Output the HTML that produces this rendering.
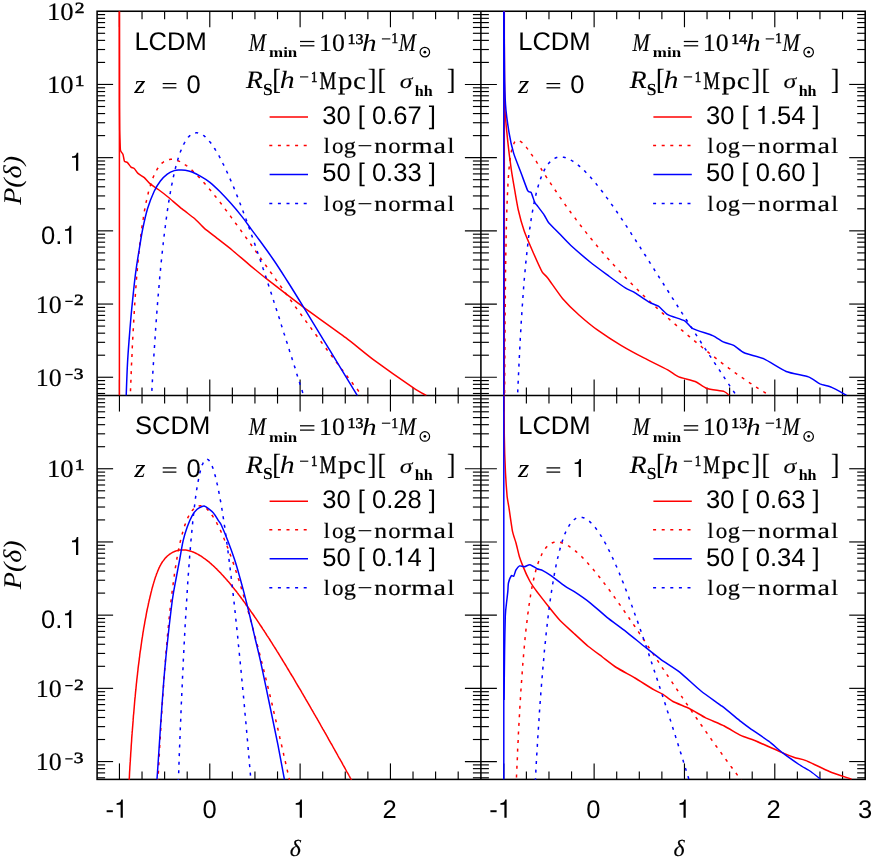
<!DOCTYPE html>
<html><head><meta charset="utf-8"><title>P(delta)</title>
<style>
html,body{margin:0;padding:0;background:#fff;}
body{width:872px;height:857px;overflow:hidden;font-family:"Liberation Sans",sans-serif;}
svg{display:block;will-change:transform;}
text{fill:#000;text-rendering:geometricPrecision;}
</style></head><body>
<svg width="872" height="857" viewBox="0 0 872 857">
<g id="frame" stroke-linecap="butt">
<rect x="97.1" y="11.25" width="768.10" height="768.15" fill="none" stroke="#000" stroke-width="1.55"/>
<line x1="480.90" y1="11.25" x2="480.90" y2="779.40" stroke="#000" stroke-width="1.55"/>
<line x1="97.10" y1="395.55" x2="865.20" y2="395.55" stroke="#000" stroke-width="1.55"/>
<line x1="119.45" y1="11.25" x2="119.45" y2="27.25" stroke="#000" stroke-width="1.15"/>
<line x1="119.45" y1="379.55" x2="119.45" y2="411.55" stroke="#000" stroke-width="1.15"/>
<line x1="119.45" y1="763.40" x2="119.45" y2="779.40" stroke="#000" stroke-width="1.15"/>
<line x1="142.03" y1="11.25" x2="142.03" y2="19.25" stroke="#000" stroke-width="1.15"/>
<line x1="142.03" y1="387.55" x2="142.03" y2="403.55" stroke="#000" stroke-width="1.15"/>
<line x1="142.03" y1="771.40" x2="142.03" y2="779.40" stroke="#000" stroke-width="1.15"/>
<line x1="164.62" y1="11.25" x2="164.62" y2="19.25" stroke="#000" stroke-width="1.15"/>
<line x1="164.62" y1="387.55" x2="164.62" y2="403.55" stroke="#000" stroke-width="1.15"/>
<line x1="164.62" y1="771.40" x2="164.62" y2="779.40" stroke="#000" stroke-width="1.15"/>
<line x1="187.20" y1="11.25" x2="187.20" y2="19.25" stroke="#000" stroke-width="1.15"/>
<line x1="187.20" y1="387.55" x2="187.20" y2="403.55" stroke="#000" stroke-width="1.15"/>
<line x1="187.20" y1="771.40" x2="187.20" y2="779.40" stroke="#000" stroke-width="1.15"/>
<line x1="209.78" y1="11.25" x2="209.78" y2="27.25" stroke="#000" stroke-width="1.15"/>
<line x1="209.78" y1="379.55" x2="209.78" y2="411.55" stroke="#000" stroke-width="1.15"/>
<line x1="209.78" y1="763.40" x2="209.78" y2="779.40" stroke="#000" stroke-width="1.15"/>
<line x1="232.36" y1="11.25" x2="232.36" y2="19.25" stroke="#000" stroke-width="1.15"/>
<line x1="232.36" y1="387.55" x2="232.36" y2="403.55" stroke="#000" stroke-width="1.15"/>
<line x1="232.36" y1="771.40" x2="232.36" y2="779.40" stroke="#000" stroke-width="1.15"/>
<line x1="254.94" y1="11.25" x2="254.94" y2="19.25" stroke="#000" stroke-width="1.15"/>
<line x1="254.94" y1="387.55" x2="254.94" y2="403.55" stroke="#000" stroke-width="1.15"/>
<line x1="254.94" y1="771.40" x2="254.94" y2="779.40" stroke="#000" stroke-width="1.15"/>
<line x1="277.53" y1="11.25" x2="277.53" y2="19.25" stroke="#000" stroke-width="1.15"/>
<line x1="277.53" y1="387.55" x2="277.53" y2="403.55" stroke="#000" stroke-width="1.15"/>
<line x1="277.53" y1="771.40" x2="277.53" y2="779.40" stroke="#000" stroke-width="1.15"/>
<line x1="300.11" y1="11.25" x2="300.11" y2="27.25" stroke="#000" stroke-width="1.15"/>
<line x1="300.11" y1="379.55" x2="300.11" y2="411.55" stroke="#000" stroke-width="1.15"/>
<line x1="300.11" y1="763.40" x2="300.11" y2="779.40" stroke="#000" stroke-width="1.15"/>
<line x1="322.69" y1="11.25" x2="322.69" y2="19.25" stroke="#000" stroke-width="1.15"/>
<line x1="322.69" y1="387.55" x2="322.69" y2="403.55" stroke="#000" stroke-width="1.15"/>
<line x1="322.69" y1="771.40" x2="322.69" y2="779.40" stroke="#000" stroke-width="1.15"/>
<line x1="345.27" y1="11.25" x2="345.27" y2="19.25" stroke="#000" stroke-width="1.15"/>
<line x1="345.27" y1="387.55" x2="345.27" y2="403.55" stroke="#000" stroke-width="1.15"/>
<line x1="345.27" y1="771.40" x2="345.27" y2="779.40" stroke="#000" stroke-width="1.15"/>
<line x1="367.86" y1="11.25" x2="367.86" y2="19.25" stroke="#000" stroke-width="1.15"/>
<line x1="367.86" y1="387.55" x2="367.86" y2="403.55" stroke="#000" stroke-width="1.15"/>
<line x1="367.86" y1="771.40" x2="367.86" y2="779.40" stroke="#000" stroke-width="1.15"/>
<line x1="390.44" y1="11.25" x2="390.44" y2="27.25" stroke="#000" stroke-width="1.15"/>
<line x1="390.44" y1="379.55" x2="390.44" y2="411.55" stroke="#000" stroke-width="1.15"/>
<line x1="390.44" y1="763.40" x2="390.44" y2="779.40" stroke="#000" stroke-width="1.15"/>
<line x1="413.02" y1="11.25" x2="413.02" y2="19.25" stroke="#000" stroke-width="1.15"/>
<line x1="413.02" y1="387.55" x2="413.02" y2="403.55" stroke="#000" stroke-width="1.15"/>
<line x1="413.02" y1="771.40" x2="413.02" y2="779.40" stroke="#000" stroke-width="1.15"/>
<line x1="435.60" y1="11.25" x2="435.60" y2="19.25" stroke="#000" stroke-width="1.15"/>
<line x1="435.60" y1="387.55" x2="435.60" y2="403.55" stroke="#000" stroke-width="1.15"/>
<line x1="435.60" y1="771.40" x2="435.60" y2="779.40" stroke="#000" stroke-width="1.15"/>
<line x1="458.19" y1="11.25" x2="458.19" y2="19.25" stroke="#000" stroke-width="1.15"/>
<line x1="458.19" y1="387.55" x2="458.19" y2="403.55" stroke="#000" stroke-width="1.15"/>
<line x1="458.19" y1="771.40" x2="458.19" y2="779.40" stroke="#000" stroke-width="1.15"/>
<line x1="503.80" y1="11.25" x2="503.80" y2="27.25" stroke="#000" stroke-width="1.15"/>
<line x1="503.80" y1="379.55" x2="503.80" y2="411.55" stroke="#000" stroke-width="1.15"/>
<line x1="503.80" y1="763.40" x2="503.80" y2="779.40" stroke="#000" stroke-width="1.15"/>
<line x1="526.38" y1="11.25" x2="526.38" y2="19.25" stroke="#000" stroke-width="1.15"/>
<line x1="526.38" y1="387.55" x2="526.38" y2="403.55" stroke="#000" stroke-width="1.15"/>
<line x1="526.38" y1="771.40" x2="526.38" y2="779.40" stroke="#000" stroke-width="1.15"/>
<line x1="548.97" y1="11.25" x2="548.97" y2="19.25" stroke="#000" stroke-width="1.15"/>
<line x1="548.97" y1="387.55" x2="548.97" y2="403.55" stroke="#000" stroke-width="1.15"/>
<line x1="548.97" y1="771.40" x2="548.97" y2="779.40" stroke="#000" stroke-width="1.15"/>
<line x1="571.55" y1="11.25" x2="571.55" y2="19.25" stroke="#000" stroke-width="1.15"/>
<line x1="571.55" y1="387.55" x2="571.55" y2="403.55" stroke="#000" stroke-width="1.15"/>
<line x1="571.55" y1="771.40" x2="571.55" y2="779.40" stroke="#000" stroke-width="1.15"/>
<line x1="594.13" y1="11.25" x2="594.13" y2="27.25" stroke="#000" stroke-width="1.15"/>
<line x1="594.13" y1="379.55" x2="594.13" y2="411.55" stroke="#000" stroke-width="1.15"/>
<line x1="594.13" y1="763.40" x2="594.13" y2="779.40" stroke="#000" stroke-width="1.15"/>
<line x1="616.71" y1="11.25" x2="616.71" y2="19.25" stroke="#000" stroke-width="1.15"/>
<line x1="616.71" y1="387.55" x2="616.71" y2="403.55" stroke="#000" stroke-width="1.15"/>
<line x1="616.71" y1="771.40" x2="616.71" y2="779.40" stroke="#000" stroke-width="1.15"/>
<line x1="639.30" y1="11.25" x2="639.30" y2="19.25" stroke="#000" stroke-width="1.15"/>
<line x1="639.30" y1="387.55" x2="639.30" y2="403.55" stroke="#000" stroke-width="1.15"/>
<line x1="639.30" y1="771.40" x2="639.30" y2="779.40" stroke="#000" stroke-width="1.15"/>
<line x1="661.88" y1="11.25" x2="661.88" y2="19.25" stroke="#000" stroke-width="1.15"/>
<line x1="661.88" y1="387.55" x2="661.88" y2="403.55" stroke="#000" stroke-width="1.15"/>
<line x1="661.88" y1="771.40" x2="661.88" y2="779.40" stroke="#000" stroke-width="1.15"/>
<line x1="684.46" y1="11.25" x2="684.46" y2="27.25" stroke="#000" stroke-width="1.15"/>
<line x1="684.46" y1="379.55" x2="684.46" y2="411.55" stroke="#000" stroke-width="1.15"/>
<line x1="684.46" y1="763.40" x2="684.46" y2="779.40" stroke="#000" stroke-width="1.15"/>
<line x1="707.04" y1="11.25" x2="707.04" y2="19.25" stroke="#000" stroke-width="1.15"/>
<line x1="707.04" y1="387.55" x2="707.04" y2="403.55" stroke="#000" stroke-width="1.15"/>
<line x1="707.04" y1="771.40" x2="707.04" y2="779.40" stroke="#000" stroke-width="1.15"/>
<line x1="729.62" y1="11.25" x2="729.62" y2="19.25" stroke="#000" stroke-width="1.15"/>
<line x1="729.62" y1="387.55" x2="729.62" y2="403.55" stroke="#000" stroke-width="1.15"/>
<line x1="729.62" y1="771.40" x2="729.62" y2="779.40" stroke="#000" stroke-width="1.15"/>
<line x1="752.21" y1="11.25" x2="752.21" y2="19.25" stroke="#000" stroke-width="1.15"/>
<line x1="752.21" y1="387.55" x2="752.21" y2="403.55" stroke="#000" stroke-width="1.15"/>
<line x1="752.21" y1="771.40" x2="752.21" y2="779.40" stroke="#000" stroke-width="1.15"/>
<line x1="774.79" y1="11.25" x2="774.79" y2="27.25" stroke="#000" stroke-width="1.15"/>
<line x1="774.79" y1="379.55" x2="774.79" y2="411.55" stroke="#000" stroke-width="1.15"/>
<line x1="774.79" y1="763.40" x2="774.79" y2="779.40" stroke="#000" stroke-width="1.15"/>
<line x1="797.37" y1="11.25" x2="797.37" y2="19.25" stroke="#000" stroke-width="1.15"/>
<line x1="797.37" y1="387.55" x2="797.37" y2="403.55" stroke="#000" stroke-width="1.15"/>
<line x1="797.37" y1="771.40" x2="797.37" y2="779.40" stroke="#000" stroke-width="1.15"/>
<line x1="819.95" y1="11.25" x2="819.95" y2="19.25" stroke="#000" stroke-width="1.15"/>
<line x1="819.95" y1="387.55" x2="819.95" y2="403.55" stroke="#000" stroke-width="1.15"/>
<line x1="819.95" y1="771.40" x2="819.95" y2="779.40" stroke="#000" stroke-width="1.15"/>
<line x1="842.54" y1="11.25" x2="842.54" y2="19.25" stroke="#000" stroke-width="1.15"/>
<line x1="842.54" y1="387.55" x2="842.54" y2="403.55" stroke="#000" stroke-width="1.15"/>
<line x1="842.54" y1="771.40" x2="842.54" y2="779.40" stroke="#000" stroke-width="1.15"/>
<line x1="97.10" y1="84.45" x2="113.10" y2="84.45" stroke="#000" stroke-width="1.15"/>
<line x1="464.90" y1="84.45" x2="496.90" y2="84.45" stroke="#000" stroke-width="1.15"/>
<line x1="849.20" y1="84.45" x2="865.20" y2="84.45" stroke="#000" stroke-width="1.15"/>
<line x1="97.10" y1="62.41" x2="105.10" y2="62.41" stroke="#000" stroke-width="1.15"/>
<line x1="472.90" y1="62.41" x2="488.90" y2="62.41" stroke="#000" stroke-width="1.15"/>
<line x1="857.20" y1="62.41" x2="865.20" y2="62.41" stroke="#000" stroke-width="1.15"/>
<line x1="97.10" y1="49.52" x2="105.10" y2="49.52" stroke="#000" stroke-width="1.15"/>
<line x1="472.90" y1="49.52" x2="488.90" y2="49.52" stroke="#000" stroke-width="1.15"/>
<line x1="857.20" y1="49.52" x2="865.20" y2="49.52" stroke="#000" stroke-width="1.15"/>
<line x1="97.10" y1="40.38" x2="105.10" y2="40.38" stroke="#000" stroke-width="1.15"/>
<line x1="472.90" y1="40.38" x2="488.90" y2="40.38" stroke="#000" stroke-width="1.15"/>
<line x1="857.20" y1="40.38" x2="865.20" y2="40.38" stroke="#000" stroke-width="1.15"/>
<line x1="97.10" y1="33.29" x2="105.10" y2="33.29" stroke="#000" stroke-width="1.15"/>
<line x1="472.90" y1="33.29" x2="488.90" y2="33.29" stroke="#000" stroke-width="1.15"/>
<line x1="857.20" y1="33.29" x2="865.20" y2="33.29" stroke="#000" stroke-width="1.15"/>
<line x1="97.10" y1="27.49" x2="105.10" y2="27.49" stroke="#000" stroke-width="1.15"/>
<line x1="472.90" y1="27.49" x2="488.90" y2="27.49" stroke="#000" stroke-width="1.15"/>
<line x1="857.20" y1="27.49" x2="865.20" y2="27.49" stroke="#000" stroke-width="1.15"/>
<line x1="97.10" y1="22.59" x2="105.10" y2="22.59" stroke="#000" stroke-width="1.15"/>
<line x1="472.90" y1="22.59" x2="488.90" y2="22.59" stroke="#000" stroke-width="1.15"/>
<line x1="857.20" y1="22.59" x2="865.20" y2="22.59" stroke="#000" stroke-width="1.15"/>
<line x1="97.10" y1="18.34" x2="105.10" y2="18.34" stroke="#000" stroke-width="1.15"/>
<line x1="472.90" y1="18.34" x2="488.90" y2="18.34" stroke="#000" stroke-width="1.15"/>
<line x1="857.20" y1="18.34" x2="865.20" y2="18.34" stroke="#000" stroke-width="1.15"/>
<line x1="97.10" y1="14.60" x2="105.10" y2="14.60" stroke="#000" stroke-width="1.15"/>
<line x1="472.90" y1="14.60" x2="488.90" y2="14.60" stroke="#000" stroke-width="1.15"/>
<line x1="857.20" y1="14.60" x2="865.20" y2="14.60" stroke="#000" stroke-width="1.15"/>
<line x1="97.10" y1="157.65" x2="113.10" y2="157.65" stroke="#000" stroke-width="1.15"/>
<line x1="464.90" y1="157.65" x2="496.90" y2="157.65" stroke="#000" stroke-width="1.15"/>
<line x1="849.20" y1="157.65" x2="865.20" y2="157.65" stroke="#000" stroke-width="1.15"/>
<line x1="97.10" y1="135.61" x2="105.10" y2="135.61" stroke="#000" stroke-width="1.15"/>
<line x1="472.90" y1="135.61" x2="488.90" y2="135.61" stroke="#000" stroke-width="1.15"/>
<line x1="857.20" y1="135.61" x2="865.20" y2="135.61" stroke="#000" stroke-width="1.15"/>
<line x1="97.10" y1="122.72" x2="105.10" y2="122.72" stroke="#000" stroke-width="1.15"/>
<line x1="472.90" y1="122.72" x2="488.90" y2="122.72" stroke="#000" stroke-width="1.15"/>
<line x1="857.20" y1="122.72" x2="865.20" y2="122.72" stroke="#000" stroke-width="1.15"/>
<line x1="97.10" y1="113.58" x2="105.10" y2="113.58" stroke="#000" stroke-width="1.15"/>
<line x1="472.90" y1="113.58" x2="488.90" y2="113.58" stroke="#000" stroke-width="1.15"/>
<line x1="857.20" y1="113.58" x2="865.20" y2="113.58" stroke="#000" stroke-width="1.15"/>
<line x1="97.10" y1="106.49" x2="105.10" y2="106.49" stroke="#000" stroke-width="1.15"/>
<line x1="472.90" y1="106.49" x2="488.90" y2="106.49" stroke="#000" stroke-width="1.15"/>
<line x1="857.20" y1="106.49" x2="865.20" y2="106.49" stroke="#000" stroke-width="1.15"/>
<line x1="97.10" y1="100.69" x2="105.10" y2="100.69" stroke="#000" stroke-width="1.15"/>
<line x1="472.90" y1="100.69" x2="488.90" y2="100.69" stroke="#000" stroke-width="1.15"/>
<line x1="857.20" y1="100.69" x2="865.20" y2="100.69" stroke="#000" stroke-width="1.15"/>
<line x1="97.10" y1="95.79" x2="105.10" y2="95.79" stroke="#000" stroke-width="1.15"/>
<line x1="472.90" y1="95.79" x2="488.90" y2="95.79" stroke="#000" stroke-width="1.15"/>
<line x1="857.20" y1="95.79" x2="865.20" y2="95.79" stroke="#000" stroke-width="1.15"/>
<line x1="97.10" y1="91.54" x2="105.10" y2="91.54" stroke="#000" stroke-width="1.15"/>
<line x1="472.90" y1="91.54" x2="488.90" y2="91.54" stroke="#000" stroke-width="1.15"/>
<line x1="857.20" y1="91.54" x2="865.20" y2="91.54" stroke="#000" stroke-width="1.15"/>
<line x1="97.10" y1="87.80" x2="105.10" y2="87.80" stroke="#000" stroke-width="1.15"/>
<line x1="472.90" y1="87.80" x2="488.90" y2="87.80" stroke="#000" stroke-width="1.15"/>
<line x1="857.20" y1="87.80" x2="865.20" y2="87.80" stroke="#000" stroke-width="1.15"/>
<line x1="97.10" y1="230.85" x2="113.10" y2="230.85" stroke="#000" stroke-width="1.15"/>
<line x1="464.90" y1="230.85" x2="496.90" y2="230.85" stroke="#000" stroke-width="1.15"/>
<line x1="849.20" y1="230.85" x2="865.20" y2="230.85" stroke="#000" stroke-width="1.15"/>
<line x1="97.10" y1="208.81" x2="105.10" y2="208.81" stroke="#000" stroke-width="1.15"/>
<line x1="472.90" y1="208.81" x2="488.90" y2="208.81" stroke="#000" stroke-width="1.15"/>
<line x1="857.20" y1="208.81" x2="865.20" y2="208.81" stroke="#000" stroke-width="1.15"/>
<line x1="97.10" y1="195.92" x2="105.10" y2="195.92" stroke="#000" stroke-width="1.15"/>
<line x1="472.90" y1="195.92" x2="488.90" y2="195.92" stroke="#000" stroke-width="1.15"/>
<line x1="857.20" y1="195.92" x2="865.20" y2="195.92" stroke="#000" stroke-width="1.15"/>
<line x1="97.10" y1="186.78" x2="105.10" y2="186.78" stroke="#000" stroke-width="1.15"/>
<line x1="472.90" y1="186.78" x2="488.90" y2="186.78" stroke="#000" stroke-width="1.15"/>
<line x1="857.20" y1="186.78" x2="865.20" y2="186.78" stroke="#000" stroke-width="1.15"/>
<line x1="97.10" y1="179.69" x2="105.10" y2="179.69" stroke="#000" stroke-width="1.15"/>
<line x1="472.90" y1="179.69" x2="488.90" y2="179.69" stroke="#000" stroke-width="1.15"/>
<line x1="857.20" y1="179.69" x2="865.20" y2="179.69" stroke="#000" stroke-width="1.15"/>
<line x1="97.10" y1="173.89" x2="105.10" y2="173.89" stroke="#000" stroke-width="1.15"/>
<line x1="472.90" y1="173.89" x2="488.90" y2="173.89" stroke="#000" stroke-width="1.15"/>
<line x1="857.20" y1="173.89" x2="865.20" y2="173.89" stroke="#000" stroke-width="1.15"/>
<line x1="97.10" y1="168.99" x2="105.10" y2="168.99" stroke="#000" stroke-width="1.15"/>
<line x1="472.90" y1="168.99" x2="488.90" y2="168.99" stroke="#000" stroke-width="1.15"/>
<line x1="857.20" y1="168.99" x2="865.20" y2="168.99" stroke="#000" stroke-width="1.15"/>
<line x1="97.10" y1="164.74" x2="105.10" y2="164.74" stroke="#000" stroke-width="1.15"/>
<line x1="472.90" y1="164.74" x2="488.90" y2="164.74" stroke="#000" stroke-width="1.15"/>
<line x1="857.20" y1="164.74" x2="865.20" y2="164.74" stroke="#000" stroke-width="1.15"/>
<line x1="97.10" y1="161.00" x2="105.10" y2="161.00" stroke="#000" stroke-width="1.15"/>
<line x1="472.90" y1="161.00" x2="488.90" y2="161.00" stroke="#000" stroke-width="1.15"/>
<line x1="857.20" y1="161.00" x2="865.20" y2="161.00" stroke="#000" stroke-width="1.15"/>
<line x1="97.10" y1="304.05" x2="113.10" y2="304.05" stroke="#000" stroke-width="1.15"/>
<line x1="464.90" y1="304.05" x2="496.90" y2="304.05" stroke="#000" stroke-width="1.15"/>
<line x1="849.20" y1="304.05" x2="865.20" y2="304.05" stroke="#000" stroke-width="1.15"/>
<line x1="97.10" y1="282.01" x2="105.10" y2="282.01" stroke="#000" stroke-width="1.15"/>
<line x1="472.90" y1="282.01" x2="488.90" y2="282.01" stroke="#000" stroke-width="1.15"/>
<line x1="857.20" y1="282.01" x2="865.20" y2="282.01" stroke="#000" stroke-width="1.15"/>
<line x1="97.10" y1="269.12" x2="105.10" y2="269.12" stroke="#000" stroke-width="1.15"/>
<line x1="472.90" y1="269.12" x2="488.90" y2="269.12" stroke="#000" stroke-width="1.15"/>
<line x1="857.20" y1="269.12" x2="865.20" y2="269.12" stroke="#000" stroke-width="1.15"/>
<line x1="97.10" y1="259.98" x2="105.10" y2="259.98" stroke="#000" stroke-width="1.15"/>
<line x1="472.90" y1="259.98" x2="488.90" y2="259.98" stroke="#000" stroke-width="1.15"/>
<line x1="857.20" y1="259.98" x2="865.20" y2="259.98" stroke="#000" stroke-width="1.15"/>
<line x1="97.10" y1="252.89" x2="105.10" y2="252.89" stroke="#000" stroke-width="1.15"/>
<line x1="472.90" y1="252.89" x2="488.90" y2="252.89" stroke="#000" stroke-width="1.15"/>
<line x1="857.20" y1="252.89" x2="865.20" y2="252.89" stroke="#000" stroke-width="1.15"/>
<line x1="97.10" y1="247.09" x2="105.10" y2="247.09" stroke="#000" stroke-width="1.15"/>
<line x1="472.90" y1="247.09" x2="488.90" y2="247.09" stroke="#000" stroke-width="1.15"/>
<line x1="857.20" y1="247.09" x2="865.20" y2="247.09" stroke="#000" stroke-width="1.15"/>
<line x1="97.10" y1="242.19" x2="105.10" y2="242.19" stroke="#000" stroke-width="1.15"/>
<line x1="472.90" y1="242.19" x2="488.90" y2="242.19" stroke="#000" stroke-width="1.15"/>
<line x1="857.20" y1="242.19" x2="865.20" y2="242.19" stroke="#000" stroke-width="1.15"/>
<line x1="97.10" y1="237.94" x2="105.10" y2="237.94" stroke="#000" stroke-width="1.15"/>
<line x1="472.90" y1="237.94" x2="488.90" y2="237.94" stroke="#000" stroke-width="1.15"/>
<line x1="857.20" y1="237.94" x2="865.20" y2="237.94" stroke="#000" stroke-width="1.15"/>
<line x1="97.10" y1="234.20" x2="105.10" y2="234.20" stroke="#000" stroke-width="1.15"/>
<line x1="472.90" y1="234.20" x2="488.90" y2="234.20" stroke="#000" stroke-width="1.15"/>
<line x1="857.20" y1="234.20" x2="865.20" y2="234.20" stroke="#000" stroke-width="1.15"/>
<line x1="97.10" y1="377.25" x2="113.10" y2="377.25" stroke="#000" stroke-width="1.15"/>
<line x1="464.90" y1="377.25" x2="496.90" y2="377.25" stroke="#000" stroke-width="1.15"/>
<line x1="849.20" y1="377.25" x2="865.20" y2="377.25" stroke="#000" stroke-width="1.15"/>
<line x1="97.10" y1="355.21" x2="105.10" y2="355.21" stroke="#000" stroke-width="1.15"/>
<line x1="472.90" y1="355.21" x2="488.90" y2="355.21" stroke="#000" stroke-width="1.15"/>
<line x1="857.20" y1="355.21" x2="865.20" y2="355.21" stroke="#000" stroke-width="1.15"/>
<line x1="97.10" y1="342.32" x2="105.10" y2="342.32" stroke="#000" stroke-width="1.15"/>
<line x1="472.90" y1="342.32" x2="488.90" y2="342.32" stroke="#000" stroke-width="1.15"/>
<line x1="857.20" y1="342.32" x2="865.20" y2="342.32" stroke="#000" stroke-width="1.15"/>
<line x1="97.10" y1="333.18" x2="105.10" y2="333.18" stroke="#000" stroke-width="1.15"/>
<line x1="472.90" y1="333.18" x2="488.90" y2="333.18" stroke="#000" stroke-width="1.15"/>
<line x1="857.20" y1="333.18" x2="865.20" y2="333.18" stroke="#000" stroke-width="1.15"/>
<line x1="97.10" y1="326.09" x2="105.10" y2="326.09" stroke="#000" stroke-width="1.15"/>
<line x1="472.90" y1="326.09" x2="488.90" y2="326.09" stroke="#000" stroke-width="1.15"/>
<line x1="857.20" y1="326.09" x2="865.20" y2="326.09" stroke="#000" stroke-width="1.15"/>
<line x1="97.10" y1="320.29" x2="105.10" y2="320.29" stroke="#000" stroke-width="1.15"/>
<line x1="472.90" y1="320.29" x2="488.90" y2="320.29" stroke="#000" stroke-width="1.15"/>
<line x1="857.20" y1="320.29" x2="865.20" y2="320.29" stroke="#000" stroke-width="1.15"/>
<line x1="97.10" y1="315.39" x2="105.10" y2="315.39" stroke="#000" stroke-width="1.15"/>
<line x1="472.90" y1="315.39" x2="488.90" y2="315.39" stroke="#000" stroke-width="1.15"/>
<line x1="857.20" y1="315.39" x2="865.20" y2="315.39" stroke="#000" stroke-width="1.15"/>
<line x1="97.10" y1="311.14" x2="105.10" y2="311.14" stroke="#000" stroke-width="1.15"/>
<line x1="472.90" y1="311.14" x2="488.90" y2="311.14" stroke="#000" stroke-width="1.15"/>
<line x1="857.20" y1="311.14" x2="865.20" y2="311.14" stroke="#000" stroke-width="1.15"/>
<line x1="97.10" y1="307.40" x2="105.10" y2="307.40" stroke="#000" stroke-width="1.15"/>
<line x1="472.90" y1="307.40" x2="488.90" y2="307.40" stroke="#000" stroke-width="1.15"/>
<line x1="857.20" y1="307.40" x2="865.20" y2="307.40" stroke="#000" stroke-width="1.15"/>
<line x1="97.10" y1="393.49" x2="105.10" y2="393.49" stroke="#000" stroke-width="1.15"/>
<line x1="472.90" y1="393.49" x2="488.90" y2="393.49" stroke="#000" stroke-width="1.15"/>
<line x1="857.20" y1="393.49" x2="865.20" y2="393.49" stroke="#000" stroke-width="1.15"/>
<line x1="97.10" y1="388.59" x2="105.10" y2="388.59" stroke="#000" stroke-width="1.15"/>
<line x1="472.90" y1="388.59" x2="488.90" y2="388.59" stroke="#000" stroke-width="1.15"/>
<line x1="857.20" y1="388.59" x2="865.20" y2="388.59" stroke="#000" stroke-width="1.15"/>
<line x1="97.10" y1="384.34" x2="105.10" y2="384.34" stroke="#000" stroke-width="1.15"/>
<line x1="472.90" y1="384.34" x2="488.90" y2="384.34" stroke="#000" stroke-width="1.15"/>
<line x1="857.20" y1="384.34" x2="865.20" y2="384.34" stroke="#000" stroke-width="1.15"/>
<line x1="97.10" y1="380.60" x2="105.10" y2="380.60" stroke="#000" stroke-width="1.15"/>
<line x1="472.90" y1="380.60" x2="488.90" y2="380.60" stroke="#000" stroke-width="1.15"/>
<line x1="857.20" y1="380.60" x2="865.20" y2="380.60" stroke="#000" stroke-width="1.15"/>
<line x1="97.10" y1="468.75" x2="113.10" y2="468.75" stroke="#000" stroke-width="1.15"/>
<line x1="464.90" y1="468.75" x2="496.90" y2="468.75" stroke="#000" stroke-width="1.15"/>
<line x1="849.20" y1="468.75" x2="865.20" y2="468.75" stroke="#000" stroke-width="1.15"/>
<line x1="97.10" y1="446.71" x2="105.10" y2="446.71" stroke="#000" stroke-width="1.15"/>
<line x1="472.90" y1="446.71" x2="488.90" y2="446.71" stroke="#000" stroke-width="1.15"/>
<line x1="857.20" y1="446.71" x2="865.20" y2="446.71" stroke="#000" stroke-width="1.15"/>
<line x1="97.10" y1="433.82" x2="105.10" y2="433.82" stroke="#000" stroke-width="1.15"/>
<line x1="472.90" y1="433.82" x2="488.90" y2="433.82" stroke="#000" stroke-width="1.15"/>
<line x1="857.20" y1="433.82" x2="865.20" y2="433.82" stroke="#000" stroke-width="1.15"/>
<line x1="97.10" y1="424.68" x2="105.10" y2="424.68" stroke="#000" stroke-width="1.15"/>
<line x1="472.90" y1="424.68" x2="488.90" y2="424.68" stroke="#000" stroke-width="1.15"/>
<line x1="857.20" y1="424.68" x2="865.20" y2="424.68" stroke="#000" stroke-width="1.15"/>
<line x1="97.10" y1="417.59" x2="105.10" y2="417.59" stroke="#000" stroke-width="1.15"/>
<line x1="472.90" y1="417.59" x2="488.90" y2="417.59" stroke="#000" stroke-width="1.15"/>
<line x1="857.20" y1="417.59" x2="865.20" y2="417.59" stroke="#000" stroke-width="1.15"/>
<line x1="97.10" y1="411.79" x2="105.10" y2="411.79" stroke="#000" stroke-width="1.15"/>
<line x1="472.90" y1="411.79" x2="488.90" y2="411.79" stroke="#000" stroke-width="1.15"/>
<line x1="857.20" y1="411.79" x2="865.20" y2="411.79" stroke="#000" stroke-width="1.15"/>
<line x1="97.10" y1="406.89" x2="105.10" y2="406.89" stroke="#000" stroke-width="1.15"/>
<line x1="472.90" y1="406.89" x2="488.90" y2="406.89" stroke="#000" stroke-width="1.15"/>
<line x1="857.20" y1="406.89" x2="865.20" y2="406.89" stroke="#000" stroke-width="1.15"/>
<line x1="97.10" y1="402.64" x2="105.10" y2="402.64" stroke="#000" stroke-width="1.15"/>
<line x1="472.90" y1="402.64" x2="488.90" y2="402.64" stroke="#000" stroke-width="1.15"/>
<line x1="857.20" y1="402.64" x2="865.20" y2="402.64" stroke="#000" stroke-width="1.15"/>
<line x1="97.10" y1="398.90" x2="105.10" y2="398.90" stroke="#000" stroke-width="1.15"/>
<line x1="472.90" y1="398.90" x2="488.90" y2="398.90" stroke="#000" stroke-width="1.15"/>
<line x1="857.20" y1="398.90" x2="865.20" y2="398.90" stroke="#000" stroke-width="1.15"/>
<line x1="97.10" y1="541.95" x2="113.10" y2="541.95" stroke="#000" stroke-width="1.15"/>
<line x1="464.90" y1="541.95" x2="496.90" y2="541.95" stroke="#000" stroke-width="1.15"/>
<line x1="849.20" y1="541.95" x2="865.20" y2="541.95" stroke="#000" stroke-width="1.15"/>
<line x1="97.10" y1="519.91" x2="105.10" y2="519.91" stroke="#000" stroke-width="1.15"/>
<line x1="472.90" y1="519.91" x2="488.90" y2="519.91" stroke="#000" stroke-width="1.15"/>
<line x1="857.20" y1="519.91" x2="865.20" y2="519.91" stroke="#000" stroke-width="1.15"/>
<line x1="97.10" y1="507.02" x2="105.10" y2="507.02" stroke="#000" stroke-width="1.15"/>
<line x1="472.90" y1="507.02" x2="488.90" y2="507.02" stroke="#000" stroke-width="1.15"/>
<line x1="857.20" y1="507.02" x2="865.20" y2="507.02" stroke="#000" stroke-width="1.15"/>
<line x1="97.10" y1="497.88" x2="105.10" y2="497.88" stroke="#000" stroke-width="1.15"/>
<line x1="472.90" y1="497.88" x2="488.90" y2="497.88" stroke="#000" stroke-width="1.15"/>
<line x1="857.20" y1="497.88" x2="865.20" y2="497.88" stroke="#000" stroke-width="1.15"/>
<line x1="97.10" y1="490.79" x2="105.10" y2="490.79" stroke="#000" stroke-width="1.15"/>
<line x1="472.90" y1="490.79" x2="488.90" y2="490.79" stroke="#000" stroke-width="1.15"/>
<line x1="857.20" y1="490.79" x2="865.20" y2="490.79" stroke="#000" stroke-width="1.15"/>
<line x1="97.10" y1="484.99" x2="105.10" y2="484.99" stroke="#000" stroke-width="1.15"/>
<line x1="472.90" y1="484.99" x2="488.90" y2="484.99" stroke="#000" stroke-width="1.15"/>
<line x1="857.20" y1="484.99" x2="865.20" y2="484.99" stroke="#000" stroke-width="1.15"/>
<line x1="97.10" y1="480.09" x2="105.10" y2="480.09" stroke="#000" stroke-width="1.15"/>
<line x1="472.90" y1="480.09" x2="488.90" y2="480.09" stroke="#000" stroke-width="1.15"/>
<line x1="857.20" y1="480.09" x2="865.20" y2="480.09" stroke="#000" stroke-width="1.15"/>
<line x1="97.10" y1="475.84" x2="105.10" y2="475.84" stroke="#000" stroke-width="1.15"/>
<line x1="472.90" y1="475.84" x2="488.90" y2="475.84" stroke="#000" stroke-width="1.15"/>
<line x1="857.20" y1="475.84" x2="865.20" y2="475.84" stroke="#000" stroke-width="1.15"/>
<line x1="97.10" y1="472.10" x2="105.10" y2="472.10" stroke="#000" stroke-width="1.15"/>
<line x1="472.90" y1="472.10" x2="488.90" y2="472.10" stroke="#000" stroke-width="1.15"/>
<line x1="857.20" y1="472.10" x2="865.20" y2="472.10" stroke="#000" stroke-width="1.15"/>
<line x1="97.10" y1="615.15" x2="113.10" y2="615.15" stroke="#000" stroke-width="1.15"/>
<line x1="464.90" y1="615.15" x2="496.90" y2="615.15" stroke="#000" stroke-width="1.15"/>
<line x1="849.20" y1="615.15" x2="865.20" y2="615.15" stroke="#000" stroke-width="1.15"/>
<line x1="97.10" y1="593.11" x2="105.10" y2="593.11" stroke="#000" stroke-width="1.15"/>
<line x1="472.90" y1="593.11" x2="488.90" y2="593.11" stroke="#000" stroke-width="1.15"/>
<line x1="857.20" y1="593.11" x2="865.20" y2="593.11" stroke="#000" stroke-width="1.15"/>
<line x1="97.10" y1="580.22" x2="105.10" y2="580.22" stroke="#000" stroke-width="1.15"/>
<line x1="472.90" y1="580.22" x2="488.90" y2="580.22" stroke="#000" stroke-width="1.15"/>
<line x1="857.20" y1="580.22" x2="865.20" y2="580.22" stroke="#000" stroke-width="1.15"/>
<line x1="97.10" y1="571.08" x2="105.10" y2="571.08" stroke="#000" stroke-width="1.15"/>
<line x1="472.90" y1="571.08" x2="488.90" y2="571.08" stroke="#000" stroke-width="1.15"/>
<line x1="857.20" y1="571.08" x2="865.20" y2="571.08" stroke="#000" stroke-width="1.15"/>
<line x1="97.10" y1="563.99" x2="105.10" y2="563.99" stroke="#000" stroke-width="1.15"/>
<line x1="472.90" y1="563.99" x2="488.90" y2="563.99" stroke="#000" stroke-width="1.15"/>
<line x1="857.20" y1="563.99" x2="865.20" y2="563.99" stroke="#000" stroke-width="1.15"/>
<line x1="97.10" y1="558.19" x2="105.10" y2="558.19" stroke="#000" stroke-width="1.15"/>
<line x1="472.90" y1="558.19" x2="488.90" y2="558.19" stroke="#000" stroke-width="1.15"/>
<line x1="857.20" y1="558.19" x2="865.20" y2="558.19" stroke="#000" stroke-width="1.15"/>
<line x1="97.10" y1="553.29" x2="105.10" y2="553.29" stroke="#000" stroke-width="1.15"/>
<line x1="472.90" y1="553.29" x2="488.90" y2="553.29" stroke="#000" stroke-width="1.15"/>
<line x1="857.20" y1="553.29" x2="865.20" y2="553.29" stroke="#000" stroke-width="1.15"/>
<line x1="97.10" y1="549.04" x2="105.10" y2="549.04" stroke="#000" stroke-width="1.15"/>
<line x1="472.90" y1="549.04" x2="488.90" y2="549.04" stroke="#000" stroke-width="1.15"/>
<line x1="857.20" y1="549.04" x2="865.20" y2="549.04" stroke="#000" stroke-width="1.15"/>
<line x1="97.10" y1="545.30" x2="105.10" y2="545.30" stroke="#000" stroke-width="1.15"/>
<line x1="472.90" y1="545.30" x2="488.90" y2="545.30" stroke="#000" stroke-width="1.15"/>
<line x1="857.20" y1="545.30" x2="865.20" y2="545.30" stroke="#000" stroke-width="1.15"/>
<line x1="97.10" y1="688.35" x2="113.10" y2="688.35" stroke="#000" stroke-width="1.15"/>
<line x1="464.90" y1="688.35" x2="496.90" y2="688.35" stroke="#000" stroke-width="1.15"/>
<line x1="849.20" y1="688.35" x2="865.20" y2="688.35" stroke="#000" stroke-width="1.15"/>
<line x1="97.10" y1="666.31" x2="105.10" y2="666.31" stroke="#000" stroke-width="1.15"/>
<line x1="472.90" y1="666.31" x2="488.90" y2="666.31" stroke="#000" stroke-width="1.15"/>
<line x1="857.20" y1="666.31" x2="865.20" y2="666.31" stroke="#000" stroke-width="1.15"/>
<line x1="97.10" y1="653.42" x2="105.10" y2="653.42" stroke="#000" stroke-width="1.15"/>
<line x1="472.90" y1="653.42" x2="488.90" y2="653.42" stroke="#000" stroke-width="1.15"/>
<line x1="857.20" y1="653.42" x2="865.20" y2="653.42" stroke="#000" stroke-width="1.15"/>
<line x1="97.10" y1="644.28" x2="105.10" y2="644.28" stroke="#000" stroke-width="1.15"/>
<line x1="472.90" y1="644.28" x2="488.90" y2="644.28" stroke="#000" stroke-width="1.15"/>
<line x1="857.20" y1="644.28" x2="865.20" y2="644.28" stroke="#000" stroke-width="1.15"/>
<line x1="97.10" y1="637.19" x2="105.10" y2="637.19" stroke="#000" stroke-width="1.15"/>
<line x1="472.90" y1="637.19" x2="488.90" y2="637.19" stroke="#000" stroke-width="1.15"/>
<line x1="857.20" y1="637.19" x2="865.20" y2="637.19" stroke="#000" stroke-width="1.15"/>
<line x1="97.10" y1="631.39" x2="105.10" y2="631.39" stroke="#000" stroke-width="1.15"/>
<line x1="472.90" y1="631.39" x2="488.90" y2="631.39" stroke="#000" stroke-width="1.15"/>
<line x1="857.20" y1="631.39" x2="865.20" y2="631.39" stroke="#000" stroke-width="1.15"/>
<line x1="97.10" y1="626.49" x2="105.10" y2="626.49" stroke="#000" stroke-width="1.15"/>
<line x1="472.90" y1="626.49" x2="488.90" y2="626.49" stroke="#000" stroke-width="1.15"/>
<line x1="857.20" y1="626.49" x2="865.20" y2="626.49" stroke="#000" stroke-width="1.15"/>
<line x1="97.10" y1="622.24" x2="105.10" y2="622.24" stroke="#000" stroke-width="1.15"/>
<line x1="472.90" y1="622.24" x2="488.90" y2="622.24" stroke="#000" stroke-width="1.15"/>
<line x1="857.20" y1="622.24" x2="865.20" y2="622.24" stroke="#000" stroke-width="1.15"/>
<line x1="97.10" y1="618.50" x2="105.10" y2="618.50" stroke="#000" stroke-width="1.15"/>
<line x1="472.90" y1="618.50" x2="488.90" y2="618.50" stroke="#000" stroke-width="1.15"/>
<line x1="857.20" y1="618.50" x2="865.20" y2="618.50" stroke="#000" stroke-width="1.15"/>
<line x1="97.10" y1="761.55" x2="113.10" y2="761.55" stroke="#000" stroke-width="1.15"/>
<line x1="464.90" y1="761.55" x2="496.90" y2="761.55" stroke="#000" stroke-width="1.15"/>
<line x1="849.20" y1="761.55" x2="865.20" y2="761.55" stroke="#000" stroke-width="1.15"/>
<line x1="97.10" y1="739.51" x2="105.10" y2="739.51" stroke="#000" stroke-width="1.15"/>
<line x1="472.90" y1="739.51" x2="488.90" y2="739.51" stroke="#000" stroke-width="1.15"/>
<line x1="857.20" y1="739.51" x2="865.20" y2="739.51" stroke="#000" stroke-width="1.15"/>
<line x1="97.10" y1="726.62" x2="105.10" y2="726.62" stroke="#000" stroke-width="1.15"/>
<line x1="472.90" y1="726.62" x2="488.90" y2="726.62" stroke="#000" stroke-width="1.15"/>
<line x1="857.20" y1="726.62" x2="865.20" y2="726.62" stroke="#000" stroke-width="1.15"/>
<line x1="97.10" y1="717.48" x2="105.10" y2="717.48" stroke="#000" stroke-width="1.15"/>
<line x1="472.90" y1="717.48" x2="488.90" y2="717.48" stroke="#000" stroke-width="1.15"/>
<line x1="857.20" y1="717.48" x2="865.20" y2="717.48" stroke="#000" stroke-width="1.15"/>
<line x1="97.10" y1="710.39" x2="105.10" y2="710.39" stroke="#000" stroke-width="1.15"/>
<line x1="472.90" y1="710.39" x2="488.90" y2="710.39" stroke="#000" stroke-width="1.15"/>
<line x1="857.20" y1="710.39" x2="865.20" y2="710.39" stroke="#000" stroke-width="1.15"/>
<line x1="97.10" y1="704.59" x2="105.10" y2="704.59" stroke="#000" stroke-width="1.15"/>
<line x1="472.90" y1="704.59" x2="488.90" y2="704.59" stroke="#000" stroke-width="1.15"/>
<line x1="857.20" y1="704.59" x2="865.20" y2="704.59" stroke="#000" stroke-width="1.15"/>
<line x1="97.10" y1="699.69" x2="105.10" y2="699.69" stroke="#000" stroke-width="1.15"/>
<line x1="472.90" y1="699.69" x2="488.90" y2="699.69" stroke="#000" stroke-width="1.15"/>
<line x1="857.20" y1="699.69" x2="865.20" y2="699.69" stroke="#000" stroke-width="1.15"/>
<line x1="97.10" y1="695.44" x2="105.10" y2="695.44" stroke="#000" stroke-width="1.15"/>
<line x1="472.90" y1="695.44" x2="488.90" y2="695.44" stroke="#000" stroke-width="1.15"/>
<line x1="857.20" y1="695.44" x2="865.20" y2="695.44" stroke="#000" stroke-width="1.15"/>
<line x1="97.10" y1="691.70" x2="105.10" y2="691.70" stroke="#000" stroke-width="1.15"/>
<line x1="472.90" y1="691.70" x2="488.90" y2="691.70" stroke="#000" stroke-width="1.15"/>
<line x1="857.20" y1="691.70" x2="865.20" y2="691.70" stroke="#000" stroke-width="1.15"/>
<line x1="97.10" y1="777.79" x2="105.10" y2="777.79" stroke="#000" stroke-width="1.15"/>
<line x1="472.90" y1="777.79" x2="488.90" y2="777.79" stroke="#000" stroke-width="1.15"/>
<line x1="857.20" y1="777.79" x2="865.20" y2="777.79" stroke="#000" stroke-width="1.15"/>
<line x1="97.10" y1="772.89" x2="105.10" y2="772.89" stroke="#000" stroke-width="1.15"/>
<line x1="472.90" y1="772.89" x2="488.90" y2="772.89" stroke="#000" stroke-width="1.15"/>
<line x1="857.20" y1="772.89" x2="865.20" y2="772.89" stroke="#000" stroke-width="1.15"/>
<line x1="97.10" y1="768.64" x2="105.10" y2="768.64" stroke="#000" stroke-width="1.15"/>
<line x1="472.90" y1="768.64" x2="488.90" y2="768.64" stroke="#000" stroke-width="1.15"/>
<line x1="857.20" y1="768.64" x2="865.20" y2="768.64" stroke="#000" stroke-width="1.15"/>
<line x1="97.10" y1="764.90" x2="105.10" y2="764.90" stroke="#000" stroke-width="1.15"/>
<line x1="472.90" y1="764.90" x2="488.90" y2="764.90" stroke="#000" stroke-width="1.15"/>
<line x1="857.20" y1="764.90" x2="865.20" y2="764.90" stroke="#000" stroke-width="1.15"/>
</g>
<defs>
<clipPath id="ctl"><rect x="97.1" y="11.25" width="383.80" height="384.30"/></clipPath>
<clipPath id="ctr"><rect x="480.9" y="11.25" width="383.80" height="384.30"/></clipPath>
<clipPath id="cbl"><rect x="97.1" y="395.55" width="383.80" height="384.30"/></clipPath>
<clipPath id="cbr"><rect x="480.9" y="395.55" width="383.80" height="384.30"/></clipPath>
</defs>
<g clip-path="url(#ctl)">
<line x1="119.4" y1="11.25" x2="119.4" y2="395.55" stroke="#ff0000" stroke-width="1.5"/>
<path d="M119.4,11.2C119.4,20.1 119.5,88.1 119.5,100.0C119.5,111.9 119.7,126.0 119.7,130.0C119.8,134.0 119.9,138.0 120.0,140.0C120.1,142.0 120.2,148.9 120.5,150.3C120.8,151.8 122.6,153.4 123.0,154.5C123.4,155.6 124.0,160.4 124.4,161.2C124.9,162.0 126.8,162.0 127.5,162.6C128.2,163.2 130.3,166.5 131.0,167.1C131.7,167.7 133.5,167.9 134.2,168.5C134.9,169.1 137.0,172.5 138.0,173.4C139.0,174.3 143.1,176.6 144.3,177.6C145.5,178.6 148.5,182.4 149.9,183.6C151.3,184.8 156.5,188.2 158.3,189.5C160.1,190.8 165.6,195.0 168.0,197.0C170.4,199.0 179.7,207.0 182.4,209.2C185.1,211.4 192.6,216.9 194.8,218.8C197.0,220.7 202.2,226.5 204.4,228.4C206.6,230.3 214.0,235.9 216.8,238.1C219.6,240.3 228.7,247.3 232.0,250.0C235.3,252.7 246.5,262.4 250.0,265.3C253.5,268.2 261.6,275.0 267.0,279.2C272.4,283.4 295.8,301.5 303.7,307.4C311.6,313.2 338.7,332.4 345.7,337.7C352.7,342.9 366.9,354.9 373.7,359.9C380.5,364.9 408.1,384.3 413.4,387.9C418.7,391.5 425.1,394.8 426.4,395.6" fill="none" stroke="#ff0000" stroke-width="1.5" stroke-linejoin="round"/>
<path d="M130.2,399.9L130.3,396.2L130.3,395.6L130.5,391.4L130.6,387.2L130.8,383.0L131.0,378.9L131.1,374.8L131.3,370.8L131.4,368.9L131.4,366.8L131.6,362.8L131.8,358.9L132.0,355.0L132.1,351.1L132.3,347.3L132.4,345.4L132.5,343.5L132.7,339.7L132.9,336.0L133.1,332.4L133.3,328.7L133.5,325.1L133.5,325.0L133.7,321.6L133.9,318.1L134.1,314.6L134.3,311.1L134.5,307.7L134.5,307.2L134.7,304.4L134.9,301.0L135.1,297.7L135.4,294.5L135.6,291.5L135.6,291.3L135.8,288.1L136.1,284.9L136.3,281.8L136.5,278.8L136.6,277.5L136.8,275.7L137.0,272.8L137.3,269.8L137.5,266.9L137.7,265.2L137.8,264.0L138.1,261.2L138.3,258.4L138.6,255.6L138.8,254.1L138.9,252.9L139.2,250.2L139.4,247.6L139.7,245.0L139.8,244.2L140.0,242.4L140.3,239.9L140.6,237.4L140.9,235.3L140.9,234.9L141.2,232.5L141.5,230.2L141.8,227.8L141.9,227.2L142.2,225.5L142.5,223.3L142.8,221.1L143.0,220.0L143.2,218.9L143.5,216.7L143.8,214.6L144.0,213.5L144.2,212.6L144.5,210.5L144.9,208.6L145.1,207.6L145.3,206.6L145.6,204.7L146.0,202.8L146.1,202.2L146.4,201.0L146.8,199.2L147.2,197.5L147.2,197.4L147.6,195.7L148.0,194.1L148.3,193.0L148.4,192.4L148.8,190.8L149.2,189.3L149.3,189.0L149.7,187.8L150.1,186.3L150.4,185.4L150.5,184.8L151.0,183.4L151.4,182.1L151.4,182.1L151.9,180.8L152.4,179.5L152.5,179.1L152.8,178.2L153.3,177.0L153.5,176.5L153.8,175.9L154.3,174.7L154.6,174.1L154.8,173.6L155.3,172.6L155.7,171.9L155.8,171.6L156.4,170.6L156.7,170.0L156.9,169.7L157.4,168.8L157.8,168.3L158.0,168.0L158.5,167.1L158.8,166.7L159.1,166.4L159.7,165.6L159.9,165.4L160.2,165.0L160.8,164.3L160.9,164.2L161.4,163.7L162.0,163.1L162.0,163.1L162.6,162.6L163.1,162.3L163.3,162.1L163.9,161.6L164.1,161.5L164.5,161.2L165.2,160.9L165.2,160.9L165.8,160.5L166.2,160.4L166.5,160.2L167.2,160.0L167.3,160.0L167.9,159.8L168.3,159.6L168.6,159.6L169.3,159.5L169.4,159.4L170.0,159.4L170.5,159.3L170.7,159.3L171.5,159.3L171.5,159.3L172.2,159.3L172.6,159.4L173.0,159.4L173.6,159.5L173.8,159.5L174.5,159.6L174.7,159.7L175.3,159.8L175.7,159.9L176.2,160.1L176.8,160.3L177.0,160.3L177.8,160.6L177.8,160.7L178.6,161.0L178.9,161.1L179.5,161.4L180.0,161.6L180.4,161.8L181.0,162.1L181.2,162.3L182.1,162.7L182.1,162.8L183.0,163.3L183.1,163.4L184.0,163.9L184.2,164.1L184.9,164.6L185.2,164.8L185.8,165.2L186.3,165.6L186.8,165.9L187.4,166.4L187.8,166.7L188.4,167.2L188.8,167.5L189.5,168.1L189.8,168.3L190.5,169.0L190.8,169.2L191.6,169.9L191.8,170.1L192.6,170.9L192.8,171.1L193.7,171.9L193.9,172.1L194.8,172.9L195.0,173.1L195.8,173.9L196.1,174.2L196.9,175.0L197.2,175.3L197.9,176.1L198.3,176.4L199.0,177.2L199.4,177.6L200.0,178.3L200.6,178.9L201.1,179.4L201.8,180.2L202.2,180.6L203.0,181.5L203.2,181.8L204.2,182.9L204.3,183.0L205.3,184.2L205.4,184.3L206.4,185.4L206.6,185.7L207.4,186.6L207.9,187.2L208.5,187.9L209.2,188.7L209.5,189.2L210.5,190.3L210.6,190.4L211.7,191.7L211.8,191.9L212.7,193.0L213.1,193.5L213.8,194.3L214.5,195.2L214.8,195.7L215.9,197.0L215.9,197.0L216.9,198.4L217.2,198.7L218.0,199.7L218.7,200.6L219.1,201.1L220.1,202.4L220.1,202.4L221.2,203.8L221.6,204.3L222.2,205.2L223.0,206.2L223.3,206.6L224.3,208.0L224.5,208.2L225.4,209.4L226.0,210.2L226.5,210.8L227.5,212.2L227.6,212.3L228.6,213.6L229.2,214.4L229.6,215.0L230.7,216.5L230.7,216.6L231.7,217.9L232.3,218.7L232.8,219.3L233.8,220.8L234.0,221.0L234.9,222.2L235.6,223.2L236.0,223.7L237.0,225.1L237.3,225.5L238.1,226.6L239.0,227.9L239.1,228.0L240.2,229.5L240.8,230.3L241.2,231.0L242.3,232.4L242.5,232.7L243.4,233.9L244.3,235.2L244.4,235.4L245.5,236.9L246.1,237.7L246.5,238.3L247.6,239.8L247.9,240.3L248.6,241.3L249.7,242.8L249.8,242.9L250.8,244.2L251.7,245.5L251.8,245.7L252.9,247.2L253.6,248.2L253.9,248.7L255.0,250.2L255.5,250.9L256.0,251.7L257.1,253.1L257.5,253.7L258.2,254.6L259.2,256.1L259.5,256.5L260.3,257.6L261.3,259.1L261.5,259.4L262.4,260.6L263.4,262.1L263.6,262.3L264.5,263.5L265.5,265.0L265.7,265.2L266.6,266.5L267.7,268.0L267.8,268.2L268.7,269.5L269.8,271.0L269.9,271.2L270.8,272.5L271.9,273.9L272.1,274.2L272.9,275.4L274.0,276.9L274.3,277.4L275.1,278.4L276.1,279.9L276.6,280.5L277.2,281.4L278.2,282.8L278.8,283.7L279.3,284.3L280.3,285.8L281.1,286.9L281.4,287.3L282.5,288.8L283.5,290.2L283.5,290.2L284.6,291.7L285.6,293.2L285.8,293.5L286.7,294.7L287.7,296.1L288.3,296.8L288.8,297.6L289.8,299.1L290.7,300.2L290.9,300.5L292.0,302.0L293.0,303.5L293.2,303.7L294.1,304.9L295.1,306.4L295.7,307.2L296.2,307.9L297.2,309.3L298.2,310.7L298.3,310.8L299.4,312.2L300.4,313.7L300.8,314.3L301.5,315.1L302.5,316.6L303.5,317.9L303.6,318.0L304.6,319.5L305.7,320.9L306.1,321.5L306.8,322.4L307.8,323.8L308.8,325.2L308.9,325.3L309.9,326.7L311.0,328.1L311.6,328.9L312.0,329.6L313.1,331.0L314.2,332.4L314.3,332.7L315.2,333.9L316.3,335.3L317.2,336.5L317.3,336.7L318.4,338.2L319.4,339.6L320.0,340.4L320.5,341.0L321.5,342.4L322.6,343.9L322.9,344.3L323.7,345.3L324.7,346.7L325.8,348.1L325.9,348.2L326.8,349.5L327.9,350.9L328.9,352.2L328.9,352.3L330.0,353.7L331.1,355.1L331.9,356.3L332.1,356.5L333.2,357.9L334.2,359.3L335.0,360.3L335.3,360.7L336.3,362.1L337.4,363.5L338.1,364.4L338.5,364.9L339.5,366.3L340.6,367.7L341.3,368.6L341.6,369.1L342.7,370.5L343.7,371.8L344.5,372.8L344.8,373.2L345.9,374.6L346.9,376.0L347.7,377.1L348.0,377.4L349.0,378.7L350.1,380.1L351.0,381.3L351.1,381.5L352.2,382.8L353.2,384.2L354.3,385.6L354.4,385.7L355.4,386.9L356.4,388.3L357.5,389.6L357.8,390.0L358.5,391.0L359.6,392.3L360.6,393.7L361.2,394.5L361.7,395.0L364.7,398.9" fill="none" stroke="#ff0000" stroke-width="1.5" stroke-linejoin="round" stroke-dasharray="3 5.6"/>
<path d="M126.2,395.8C126.4,390.4 127.0,372.6 127.5,363.3C128.0,354.0 128.5,347.7 129.1,339.9C129.7,332.1 130.3,324.4 131.0,316.6C131.7,308.8 132.5,300.7 133.3,293.3C134.1,285.9 134.7,279.6 135.7,272.3C136.7,265.0 138.0,256.7 139.2,249.5C140.4,242.3 141.3,235.8 142.7,229.0C144.1,222.2 145.7,214.8 147.6,208.5C149.5,202.2 152.1,195.9 154.2,191.3C156.3,186.7 158.2,183.9 160.4,181.0C162.6,178.1 165.0,175.8 167.3,174.1C169.6,172.4 172.1,171.3 174.2,170.6C176.3,169.9 177.9,170.1 179.7,170.0C181.5,169.9 183.1,169.9 185.2,170.2C187.2,170.5 189.5,171.0 192.0,172.0C194.5,173.0 197.3,174.4 200.3,176.1C203.3,177.8 206.7,179.8 209.9,182.3C213.1,184.8 216.2,187.9 219.6,191.3C223.0,194.8 226.9,198.9 230.6,203.0C234.3,207.1 238.2,211.8 241.6,216.1C245.0,220.4 248.2,225.1 251.2,229.1C254.1,233.1 255.6,234.9 259.3,240.0C263.0,245.1 268.6,252.7 273.3,259.5C278.0,266.3 282.2,273.0 287.3,281.0C292.4,289.0 296.7,296.0 303.7,307.4C310.7,318.8 320.3,334.7 329.3,349.4C338.3,364.1 352.8,388.1 357.5,395.8" fill="none" stroke="#0000ff" stroke-width="1.5" stroke-linejoin="round"/>
<path d="M151.4,399.5L151.6,395.3L151.6,394.7L151.9,389.9L152.2,385.2L152.3,382.7L152.4,380.6L152.7,375.9L152.9,371.4L153.0,370.7L153.2,366.8L153.5,362.3L153.7,359.1L153.8,357.9L154.0,353.5L154.3,349.1L154.4,348.1L154.6,344.8L154.9,340.5L155.1,337.6L155.2,336.3L155.5,332.1L155.7,327.9L155.8,327.5L156.0,323.8L156.3,319.8L156.5,317.9L156.6,315.8L156.9,311.8L157.2,308.7L157.2,307.8L157.5,303.9L157.8,300.1L157.9,299.9L158.1,296.3L158.5,292.5L158.6,291.4L158.8,288.8L159.1,285.1L159.2,283.3L159.4,281.5L159.7,277.9L159.9,275.6L160.1,274.4L160.4,270.9L160.6,268.2L160.7,267.4L161.0,264.0L161.3,261.1L161.4,260.6L161.7,257.3L162.0,254.3L162.1,254.0L162.4,250.7L162.7,247.7L162.7,247.5L163.1,244.4L163.4,241.5L163.4,241.3L163.8,238.2L164.1,235.5L164.2,235.2L164.5,232.2L164.8,229.8L164.9,229.2L165.3,226.4L165.5,224.4L165.6,223.5L166.0,220.7L166.2,219.1L166.4,217.9L166.7,215.2L166.9,214.1L167.1,212.5L167.5,209.9L167.6,209.3L167.9,207.3L168.3,204.8L168.3,204.7L168.7,202.2L169.0,200.4L169.1,199.8L169.5,197.4L169.7,196.2L169.9,195.0L170.3,192.7L170.4,192.2L170.7,190.4L171.1,188.4L171.1,188.2L171.5,186.0L171.8,184.7L172.0,183.8L172.4,181.7L172.5,181.3L172.8,179.6L173.2,178.0L173.2,177.6L173.7,175.6L173.9,174.8L174.1,173.7L174.5,171.8L174.5,171.8L175.0,170.0L175.2,168.9L175.4,168.2L175.9,166.4L175.9,166.2L176.3,164.7L176.6,163.6L176.8,163.1L177.3,161.4L177.3,161.2L177.7,159.9L178.0,158.9L178.2,158.3L178.7,156.8L178.7,156.7L179.2,155.4L179.4,154.6L179.6,154.0L180.1,152.7L180.1,152.6L180.6,151.3L180.8,150.8L181.1,150.1L181.5,149.1L181.6,148.8L182.1,147.7L182.2,147.4L182.6,146.5L182.9,145.9L183.1,145.4L183.6,144.5L183.6,144.4L184.2,143.4L184.3,143.2L184.7,142.5L185.0,141.9L185.2,141.5L185.7,140.8L185.7,140.7L186.3,139.9L186.4,139.7L186.8,139.1L187.1,138.7L187.3,138.4L187.8,137.8L187.9,137.7L188.4,137.0L188.5,137.0L189.0,136.4L189.2,136.3L189.6,135.9L189.8,135.6L190.1,135.4L190.5,135.0L190.7,134.9L191.2,134.5L191.3,134.5L191.9,134.1L191.9,134.1L192.4,133.8L192.6,133.7L193.0,133.5L193.3,133.4L193.6,133.3L194.0,133.2L194.2,133.1L194.7,133.0L194.8,133.0L195.4,132.9L195.4,132.9L196.1,132.8L196.1,132.8L196.7,132.8L196.8,132.8L197.3,132.8L197.5,132.9L197.9,132.9L198.2,133.0L198.6,133.1L198.9,133.1L199.2,133.2L199.6,133.4L199.8,133.4L200.3,133.6L200.5,133.7L201.0,133.9L201.1,134.0L201.7,134.3L201.8,134.4L202.4,134.7L202.5,134.8L203.1,135.2L203.1,135.2L203.8,135.7L203.8,135.7L204.5,136.2L204.5,136.2L205.1,136.8L205.2,136.8L205.8,137.4L205.9,137.5L206.5,138.1L206.6,138.1L207.2,138.8L207.3,138.9L207.9,139.5L208.0,139.6L208.6,140.3L208.7,140.4L209.3,141.2L209.4,141.3L210.0,142.0L210.2,142.2L210.7,142.9L210.9,143.1L211.4,143.8L211.6,144.1L212.1,144.8L212.4,145.2L212.8,145.8L213.1,146.3L213.5,146.8L213.9,147.4L214.2,147.9L214.6,148.6L214.9,148.9L215.4,149.8L215.6,150.1L216.2,151.1L216.3,151.2L217.0,152.4L217.0,152.4L217.7,153.6L217.8,153.7L218.4,154.8L218.6,155.1L219.1,156.0L219.4,156.6L219.8,157.3L220.2,158.1L220.4,158.6L221.0,159.6L221.1,159.9L221.8,161.2L221.8,161.3L222.5,162.7L222.6,162.8L223.2,164.1L223.5,164.5L223.9,165.5L224.3,166.2L224.6,166.9L225.1,168.0L225.3,168.4L226.0,169.8L226.0,169.8L226.7,171.3L226.9,171.7L227.4,172.9L227.7,173.6L228.1,174.4L228.6,175.5L228.8,175.9L229.5,177.5L229.5,177.5L230.2,179.1L230.4,179.6L230.9,180.7L231.3,181.6L231.6,182.3L232.2,183.8L232.3,184.0L233.0,185.6L233.1,185.9L233.7,187.3L234.0,188.2L234.4,189.0L234.9,190.4L235.1,190.7L235.7,192.4L235.9,192.7L236.4,194.2L236.8,195.1L237.1,195.9L237.8,197.5L237.8,197.7L238.5,199.4L238.7,199.9L239.2,201.2L239.7,202.4L239.9,203.0L240.6,204.8L240.6,204.9L241.3,206.7L241.6,207.5L242.0,208.5L242.6,210.1L242.7,210.4L243.4,212.2L243.6,212.8L244.1,214.1L244.6,215.5L244.8,216.0L245.5,217.9L245.6,218.3L246.2,219.8L246.6,221.1L246.9,221.7L247.6,223.6L247.7,223.9L248.3,225.5L248.7,226.8L249.0,227.5L249.7,229.4L249.8,229.7L250.4,231.4L250.8,232.7L251.0,233.4L251.7,235.3L251.9,235.7L252.4,237.3L252.9,238.8L253.1,239.3L253.8,241.3L254.0,241.9L254.5,243.3L255.1,245.0L255.2,245.3L255.9,247.4L256.2,248.2L256.6,249.4L257.3,251.4L257.3,251.5L258.0,253.5L258.4,254.7L258.7,255.5L259.4,257.6L259.6,258.1L260.1,259.6L260.7,261.4L260.8,261.7L261.5,263.8L261.8,264.8L262.2,265.8L262.9,267.9L263.0,268.3L263.6,270.0L264.1,271.8L264.3,272.1L265.0,274.2L265.3,275.3L265.7,276.3L266.3,278.4L266.5,278.9L267.0,280.5L267.7,282.5L267.7,282.7L268.4,284.8L268.9,286.2L269.1,286.9L269.8,289.0L270.1,289.9L270.5,291.2L271.2,293.3L271.3,293.6L271.9,295.5L272.5,297.4L272.6,297.6L273.3,299.8L273.8,301.2L274.0,301.9L274.7,304.1L275.0,305.1L275.4,306.2L276.1,308.4L276.3,309.0L276.8,310.6L277.5,312.7L277.6,313.0L278.2,314.9L278.8,317.0L278.9,317.1L279.6,319.2L280.1,321.0L280.3,321.4L281.0,323.6L281.4,325.1L281.6,325.8L282.3,328.0L282.7,329.2L283.0,330.2L283.7,332.4L284.0,333.4L284.4,334.5L285.1,336.7L285.4,337.6L285.8,338.9L286.5,341.1L286.7,341.8L287.2,343.3L287.9,345.5L288.1,346.1L288.6,347.7L289.3,349.9L289.4,350.4L290.0,352.1L290.7,354.4L290.8,354.8L291.4,356.6L292.1,358.8L292.2,359.2L292.8,361.0L293.5,363.2L293.6,363.6L294.2,365.4L294.9,367.6L295.0,368.1L295.6,369.8L296.3,372.1L296.4,372.6L296.9,374.3L297.6,376.5L297.9,377.2L298.3,378.7L299.0,380.9L299.3,381.8L299.7,383.1L300.4,385.4L300.8,386.4L301.1,387.6L301.8,389.8L302.2,391.1L302.5,392.0L303.2,394.2L303.7,395.8L303.9,396.5L305.2,400.6" fill="none" stroke="#0000ff" stroke-width="1.5" stroke-linejoin="round" stroke-dasharray="3 5.6"/>
</g>
<g clip-path="url(#ctr)">
<line x1="504.3" y1="11.25" x2="504.3" y2="395.55" stroke="#ff0000" stroke-width="1.5"/>
<path d="M504.2,11.3C504.2,18.2 504.4,70.0 504.5,80.0C504.6,90.0 504.7,105.1 505.0,111.3C505.3,117.5 507.2,135.9 507.8,141.7C508.4,147.5 510.6,164.8 511.3,169.7C512.0,174.6 514.1,186.7 514.8,190.7C515.5,194.7 517.4,206.0 518.3,210.0C519.2,214.0 522.7,226.7 524.2,231.0C525.7,235.3 531.7,249.1 533.5,253.2C535.3,257.3 540.7,269.4 542.1,271.8C543.5,274.2 545.4,275.0 547.5,277.7C549.6,280.4 559.6,295.0 562.7,298.7C565.9,302.4 575.5,311.9 579.0,315.0C582.5,318.1 593.5,327.2 597.7,330.2C601.9,333.2 616.3,342.6 621.0,345.4C625.7,348.2 639.7,355.8 644.4,358.2C649.1,360.6 664.3,368.0 667.7,369.9C671.1,371.8 676.0,375.7 678.8,376.9C681.5,378.1 692.4,380.3 695.2,381.5C698.0,382.7 703.9,387.5 706.8,388.5C709.7,389.5 722.1,390.9 724.3,391.6C726.5,392.3 728.5,394.9 729.0,395.3" fill="none" stroke="#ff0000" stroke-width="1.5" stroke-linejoin="round"/>
<path d="M504.6,401.6L504.6,397.4L504.6,396.7L504.6,391.9L504.6,387.1L504.7,382.4L504.7,377.7L504.7,373.1L504.7,368.5L504.8,364.0L504.8,359.5L504.8,355.0L504.8,350.6L504.9,346.3L504.9,342.0L504.9,337.7L505.0,333.5L505.0,329.3L505.0,325.2L505.0,321.1L505.1,317.1L505.1,313.1L505.1,309.2L505.2,305.3L505.2,301.5L505.3,297.7L505.3,293.9L505.3,290.2L505.4,286.6L505.4,283.0L505.5,279.4L505.5,275.9L505.5,272.4L505.6,269.0L505.6,265.6L505.7,262.3L505.7,259.0L505.8,255.8L505.8,254.9L505.8,252.6L505.9,249.4L506.0,246.3L506.0,243.3L506.1,240.3L506.1,237.3L506.2,234.4L506.3,231.5L506.3,228.7L506.4,225.9L506.5,223.1L506.5,220.5L506.6,217.8L506.7,215.2L506.8,212.6L506.8,210.1L506.9,207.7L507.0,205.2L507.0,205.1L507.1,202.9L507.2,200.5L507.3,198.3L507.4,196.0L507.5,193.8L507.6,191.7L507.7,189.6L507.8,187.5L507.9,185.5L508.0,183.5L508.1,181.6L508.2,179.7L508.2,179.7L508.3,177.9L508.5,176.1L508.6,174.3L508.7,172.6L508.9,171.0L509.0,169.3L509.1,167.8L509.3,166.2L509.4,164.8L509.4,164.7L509.6,163.3L509.7,161.9L509.9,160.6L510.1,159.3L510.2,158.0L510.4,156.8L510.6,155.6L510.6,155.3L510.8,154.5L511.0,153.4L511.2,152.4L511.4,151.4L511.6,150.4L511.8,149.5L511.9,149.2L512.0,148.6L512.2,147.8L512.4,147.0L512.7,146.3L512.9,145.6L513.1,145.2L513.2,144.9L513.4,144.3L513.7,143.8L514.0,143.2L514.2,142.8L514.3,142.7L514.5,142.3L514.8,141.9L515.1,141.6L515.4,141.3L515.5,141.2L515.7,141.0L516.1,140.8L516.4,140.6L516.7,140.5L516.7,140.5L517.1,140.4L517.5,140.4L517.8,140.4L517.9,140.4L518.2,140.4L518.6,140.5L519.0,140.6L519.1,140.6L519.4,140.8L519.8,141.0L520.3,141.2L520.3,141.3L520.7,141.5L521.2,141.9L521.5,142.1L521.7,142.2L522.2,142.7L522.7,143.1L522.7,143.2L523.2,143.6L523.7,144.2L524.0,144.5L524.2,144.8L524.8,145.4L525.2,145.8L525.4,146.1L526.0,146.8L526.4,147.3L526.6,147.6L527.2,148.4L527.6,148.9L527.8,149.2L528.5,150.1L528.8,150.5L529.2,151.0L529.9,152.0L530.0,152.2L530.6,153.0L531.2,153.9L531.3,154.1L532.0,155.1L532.4,155.7L532.8,156.3L533.6,157.5L533.6,157.5L534.4,158.7L534.8,159.3L535.3,159.9L536.0,161.1L536.1,161.2L537.0,162.6L537.3,163.0L537.9,164.0L538.5,164.8L538.8,165.4L539.7,166.7L539.8,166.9L540.8,168.4L540.9,168.5L541.8,169.9L542.1,170.4L542.8,171.5L543.3,172.3L543.9,173.2L544.5,174.1L545.0,174.8L545.7,176.0L546.1,176.6L546.9,177.8L547.3,178.3L548.1,179.7L548.5,180.1L549.4,181.5L549.7,182.0L550.6,183.3L550.9,183.9L551.8,185.1L552.2,185.8L553.0,186.9L553.5,187.8L554.2,188.7L554.9,189.8L555.4,190.5L556.3,191.8L556.6,192.3L557.7,193.9L557.8,194.1L559.0,195.8L559.2,196.1L560.2,197.6L560.7,198.3L561.5,199.3L562.3,200.5L562.7,201.1L563.9,202.8L563.9,202.8L565.1,204.5L565.5,205.1L566.3,206.2L567.2,207.5L567.5,207.9L568.7,209.5L568.9,209.9L569.9,211.2L570.7,212.3L571.1,212.9L572.3,214.5L572.5,214.8L573.5,216.1L574.4,217.3L574.8,217.8L576.0,219.4L576.3,219.9L577.2,221.0L578.3,222.5L578.4,222.6L579.6,224.2L580.4,225.2L580.8,225.7L582.0,227.3L582.5,227.9L583.2,228.8L584.4,230.4L584.6,230.6L585.6,231.9L586.8,233.4L586.9,233.4L588.1,235.0L589.1,236.2L589.3,236.5L590.5,238.0L591.4,239.1L591.7,239.4L592.9,240.9L593.8,242.0L594.1,242.4L595.3,243.9L596.3,245.0L596.5,245.3L597.7,246.7L598.8,248.0L598.9,248.2L600.2,249.6L601.4,251.0L601.4,251.1L602.6,252.4L603.8,253.8L604.1,254.1L605.0,255.2L606.2,256.6L606.8,257.3L607.4,258.0L608.6,259.3L609.6,260.4L609.8,260.7L611.0,262.0L612.3,263.4L612.5,263.7L613.5,264.7L614.7,266.0L615.5,266.9L615.9,267.3L617.1,268.7L618.3,270.0L618.5,270.2L619.5,271.3L620.7,272.5L621.7,273.6L621.9,273.8L623.1,275.1L624.3,276.4L624.9,276.9L625.6,277.6L626.8,278.9L628.0,280.1L628.2,280.4L629.2,281.4L630.4,282.6L631.6,283.8L631.6,283.8L632.8,285.0L634.0,286.2L635.1,287.3L635.2,287.4L636.4,288.6L637.7,289.8L638.7,290.9L638.9,291.0L640.1,292.2L641.3,293.4L642.4,294.4L642.5,294.5L643.7,295.7L644.9,296.9L646.1,298.0L646.2,298.1L647.3,299.2L648.5,300.3L649.8,301.4L650.1,301.7L651.0,302.6L652.2,303.7L653.4,304.8L654.1,305.4L654.6,305.9L655.8,307.0L657.0,308.1L658.2,309.2L658.2,309.2L659.4,310.3L660.6,311.4L661.8,312.5L662.4,313.0L663.1,313.6L664.3,314.7L665.5,315.8L666.7,316.8L666.7,316.9L667.9,317.9L669.1,319.0L670.3,320.1L671.2,320.8L671.5,321.1L672.7,322.2L673.9,323.3L675.2,324.3L675.8,324.8L676.4,325.4L677.6,326.4L678.8,327.5L680.0,328.5L680.5,328.9L681.2,329.6L682.4,330.6L683.6,331.7L684.8,332.7L685.3,333.1L686.0,333.7L687.2,334.8L688.5,335.8L689.7,336.8L690.3,337.3L690.9,337.9L692.1,338.9L693.3,339.9L694.5,340.9L695.3,341.6L695.7,341.9L696.9,343.0L698.1,344.0L699.3,345.0L700.6,346.0L700.6,346.0L701.8,347.0L703.0,348.0L704.2,348.9L705.4,349.9L706.0,350.4L706.6,350.9L707.8,351.9L709.0,352.9L710.2,353.8L711.4,354.8L711.5,354.8L712.6,355.8L713.9,356.7L715.1,357.7L716.3,358.6L717.2,359.3L717.5,359.5L718.7,360.5L719.9,361.4L721.1,362.3L722.3,363.3L723.0,363.8L723.5,364.2L724.7,365.1L726.0,366.0L727.2,366.9L728.4,367.8L729.0,368.3L729.6,368.7L730.8,369.6L732.0,370.5L733.2,371.4L734.4,372.2L735.2,372.8L735.6,373.1L736.8,374.0L738.1,374.8L739.3,375.7L740.5,376.5L741.5,377.2L741.7,377.4L742.9,378.2L744.1,379.0L745.3,379.9L746.5,380.7L747.7,381.5L748.0,381.7L748.9,382.3L750.1,383.1L751.4,383.9L752.6,384.7L753.8,385.5L754.7,386.1L755.0,386.3L756.2,387.1L757.4,387.9L758.6,388.7L759.8,389.4L761.0,390.2L761.5,390.5L762.2,391.0L763.5,391.7L764.7,392.5L765.9,393.2L767.1,394.0L768.3,394.7L768.6,394.9L769.5,395.4L775.8,399.1" fill="none" stroke="#ff0000" stroke-width="1.5" stroke-linejoin="round" stroke-dasharray="3 5.6"/>
<line x1="503.8" y1="11.25" x2="503.8" y2="395.55" stroke="#0000ff" stroke-width="1.5"/>
<path d="M504.0,11.3C504.1,17.2 504.4,60.7 504.5,70.0C504.6,79.3 505.1,98.2 505.5,104.4C505.9,110.6 508.2,127.5 509.0,132.4C509.8,137.3 512.5,149.4 513.7,153.4C514.9,157.4 519.3,168.3 520.7,172.0C522.1,175.7 526.7,188.6 527.7,190.7C528.8,192.8 530.5,191.4 531.2,192.6C531.9,193.8 534.1,201.1 534.7,202.4C535.3,203.7 536.1,204.1 537.0,205.3C537.9,206.5 542.8,212.9 544.0,214.7C545.2,216.4 547.3,221.1 548.7,222.8C550.1,224.6 555.8,229.9 558.0,232.2C560.2,234.5 567.6,242.5 570.9,245.5C574.2,248.5 586.9,259.4 590.7,262.5C594.6,265.6 605.9,273.9 609.4,276.5C612.9,279.1 623.2,286.6 625.7,288.2C628.2,289.8 631.6,290.7 633.9,292.1C636.2,293.5 646.5,300.8 649.0,302.2C651.5,303.6 656.5,305.0 658.4,306.2C660.3,307.4 665.1,313.1 667.7,314.6C670.3,316.1 682.2,319.5 684.7,320.9C687.2,322.3 690.0,327.1 692.8,328.6C695.6,330.1 709.7,334.3 712.7,335.6C715.7,336.9 721.1,340.9 723.2,341.9C725.3,342.9 731.6,344.3 733.7,345.4C735.8,346.5 741.2,351.4 744.2,352.8C747.2,354.2 759.8,357.0 764.0,358.9C768.2,360.8 781.8,369.7 786.2,371.5C790.6,373.3 805.0,375.7 808.4,376.9C811.8,378.1 817.7,382.8 820.0,383.9C822.3,384.9 829.1,386.3 831.7,387.4C834.4,388.5 845.0,394.5 846.5,395.3" fill="none" stroke="#0000ff" stroke-width="1.5" stroke-linejoin="round"/>
<path d="M517.7,392.4L517.9,388.6L517.9,388.0L518.1,383.6L518.3,379.2L518.5,374.9L518.7,370.7L518.9,366.4L518.9,366.1L519.1,362.2L519.3,358.1L519.5,354.0L519.7,350.0L519.9,346.0L519.9,346.0L520.1,342.0L520.3,338.1L520.5,334.2L520.8,330.4L520.9,328.2L521.0,326.6L521.2,322.9L521.4,319.2L521.7,315.5L521.9,312.1L521.9,311.9L522.1,308.3L522.4,304.8L522.6,301.3L522.9,297.9L522.9,297.7L523.1,294.5L523.4,291.1L523.6,287.8L523.9,284.7L523.9,284.6L524.1,281.3L524.4,278.2L524.7,275.0L524.9,272.9L525.0,271.9L525.2,268.9L525.5,265.9L525.8,262.9L525.9,262.2L526.1,260.0L526.4,257.1L526.7,254.3L526.9,252.5L527.0,251.5L527.3,248.7L527.6,246.0L527.9,243.6L527.9,243.3L528.2,240.7L528.5,238.1L528.8,235.6L528.9,235.5L529.2,233.1L529.5,230.6L529.8,228.2L529.9,228.1L530.2,225.8L530.5,223.5L530.8,221.3L530.9,221.2L531.2,218.9L531.6,216.7L531.8,215.1L531.9,214.6L532.3,212.4L532.7,210.3L532.8,209.5L533.1,208.3L533.4,206.3L533.8,204.3L533.8,204.3L534.2,202.4L534.6,200.5L534.8,199.5L535.0,198.7L535.4,196.9L535.8,195.1L535.8,195.1L536.2,193.4L536.7,191.7L536.8,191.1L537.1,190.1L537.5,188.5L537.8,187.4L538.0,186.9L538.4,185.4L538.8,184.1L538.9,183.9L539.3,182.5L539.8,181.1L539.8,181.0L540.2,179.7L540.7,178.4L540.8,178.2L541.2,177.1L541.7,175.9L541.8,175.6L542.2,174.7L542.7,173.5L542.8,173.3L543.2,172.4L543.7,171.3L543.8,171.1L544.2,170.3L544.7,169.3L544.8,169.2L545.3,168.3L545.8,167.4L545.8,167.4L546.3,166.5L546.8,165.9L546.9,165.7L547.5,164.9L547.8,164.5L548.0,164.1L548.6,163.4L548.8,163.2L549.2,162.7L549.8,162.1L549.8,162.1L550.4,161.5L550.8,161.1L551.0,160.9L551.6,160.4L551.8,160.2L552.2,159.9L552.8,159.5L552.8,159.4L553.5,159.0L553.8,158.8L554.1,158.6L554.7,158.3L554.8,158.3L555.4,158.0L555.7,157.8L556.1,157.7L556.7,157.5L556.8,157.5L557.4,157.3L557.7,157.2L558.1,157.2L558.7,157.1L558.8,157.0L559.6,157.0L559.7,157.0L560.3,156.9L560.7,156.9L561.0,156.9L561.7,157.0L561.8,157.0L562.5,157.1L562.7,157.1L563.3,157.2L563.7,157.3L564.0,157.3L564.7,157.5L564.8,157.5L565.6,157.7L565.7,157.8L566.4,158.0L566.7,158.1L567.2,158.3L567.7,158.5L568.0,158.6L568.7,158.9L568.9,159.0L569.7,159.4L569.7,159.4L570.6,159.9L570.7,160.0L571.4,160.4L571.7,160.5L572.3,160.9L572.7,161.1L573.2,161.5L573.7,161.8L574.1,162.1L574.7,162.5L575.0,162.7L575.7,163.2L575.9,163.4L576.7,163.9L576.8,164.1L577.7,164.7L577.8,164.8L578.6,165.5L578.8,165.6L579.6,166.4L579.7,166.4L580.6,167.2L580.7,167.3L581.6,168.1L581.7,168.2L582.6,169.1L582.7,169.1L583.6,170.0L583.7,170.1L584.6,171.0L584.8,171.1L585.6,172.0L585.8,172.2L586.6,173.0L586.9,173.3L587.6,174.1L587.9,174.4L588.6,175.1L589.0,175.6L589.6,176.2L590.1,176.8L590.6,177.3L591.2,178.1L591.6,178.5L592.4,179.4L592.6,179.6L593.5,180.7L593.6,180.8L594.6,182.0L594.7,182.1L595.6,183.2L595.9,183.5L596.6,184.4L597.0,184.9L597.6,185.6L598.3,186.4L598.6,186.8L599.5,188.0L599.6,188.1L600.6,189.4L600.7,189.6L601.6,190.7L602.0,191.2L602.6,192.0L603.2,192.9L603.5,193.3L604.5,194.6L604.5,194.6L605.5,195.9L605.8,196.3L606.5,197.3L607.1,198.1L607.5,198.6L608.5,199.9L608.5,200.0L609.5,201.4L609.8,201.8L610.5,202.8L611.2,203.7L611.5,204.2L612.5,205.6L612.6,205.7L613.5,207.0L614.0,207.7L614.5,208.4L615.4,209.7L615.5,209.9L616.5,211.3L616.8,211.8L617.5,212.8L618.3,214.0L618.5,214.2L619.5,215.7L619.8,216.2L620.5,217.2L621.3,218.4L621.5,218.7L622.5,220.1L622.8,220.6L623.5,221.6L624.3,223.0L624.5,223.1L625.5,224.6L625.9,225.3L626.5,226.2L627.4,227.7L627.5,227.7L628.4,229.2L629.1,230.1L629.4,230.7L630.4,232.2L630.7,232.6L631.4,233.8L632.3,235.2L632.4,235.3L633.4,236.9L634.0,237.7L634.4,238.4L635.4,239.9L635.7,240.3L636.4,241.5L637.4,243.0L637.4,243.0L638.4,244.6L639.1,245.7L639.4,246.2L640.4,247.7L640.8,248.4L641.4,249.3L642.4,250.8L642.6,251.2L643.4,252.4L644.4,254.0L644.4,254.0L645.4,255.5L646.2,256.8L646.4,257.1L647.4,258.7L648.1,259.7L648.4,260.2L649.4,261.8L649.9,262.7L650.4,263.4L651.3,264.9L651.8,265.6L652.3,266.5L653.3,268.1L653.7,268.6L654.3,269.6L655.3,271.2L655.6,271.7L656.3,272.8L657.3,274.3L657.6,274.8L658.3,275.9L659.3,277.5L659.6,277.9L660.3,279.0L661.3,280.6L661.6,281.1L662.3,282.2L663.3,283.7L663.6,284.3L664.3,285.3L665.3,286.9L665.7,287.5L666.3,288.4L667.3,290.0L667.8,290.8L668.3,291.5L669.3,293.1L669.9,294.1L670.3,294.7L671.3,296.2L672.1,297.4L672.3,297.8L673.3,299.3L674.2,300.8L674.3,300.9L675.3,302.4L676.2,304.0L676.4,304.3L677.2,305.5L678.2,307.1L678.6,307.7L679.2,308.6L680.2,310.2L680.9,311.2L681.2,311.7L682.2,313.3L683.2,314.8L683.2,314.8L684.2,316.4L685.2,317.9L685.5,318.4L686.2,319.5L687.2,321.0L687.8,322.0L688.2,322.5L689.2,324.1L690.2,325.6L690.2,325.7L691.2,327.2L692.2,328.7L692.6,329.4L693.2,330.2L694.2,331.8L695.1,333.1L695.2,333.3L696.2,334.8L697.2,336.4L697.5,336.9L698.2,337.9L699.2,339.4L700.0,340.8L700.1,340.9L701.1,342.5L702.1,344.0L702.6,344.6L703.1,345.5L704.1,347.0L705.1,348.6L705.1,348.6L706.1,350.1L707.1,351.6L707.7,352.5L708.1,353.1L709.1,354.6L710.1,356.1L710.4,356.5L711.1,357.6L712.1,359.2L713.0,360.5L713.1,360.7L714.1,362.2L715.1,363.7L715.7,364.6L716.1,365.2L717.1,366.7L718.1,368.2L718.5,368.8L719.1,369.7L720.1,371.2L721.1,372.7L721.2,372.9L722.1,374.2L723.1,375.7L724.0,377.1L724.0,377.2L725.0,378.7L726.0,380.2L726.9,381.4L727.0,381.6L728.0,383.1L729.0,384.6L729.7,385.7L730.0,386.1L731.0,387.6L732.0,389.1L732.7,390.0L733.0,390.6L734.0,392.0L735.0,393.5L735.6,394.4L736.0,395.0L738.6,398.8" fill="none" stroke="#0000ff" stroke-width="1.5" stroke-linejoin="round" stroke-dasharray="3 5.6"/>
</g>
<g clip-path="url(#cbl)">
<path d="M129.1,782.1L129.2,779.9L129.2,779.5L129.4,776.9L129.5,774.3L129.6,771.7L129.8,769.2L129.9,766.6L130.1,764.0L130.2,762.0L130.3,761.4L130.4,758.8L130.6,756.3L130.7,753.7L130.9,751.2L131.1,748.6L131.2,746.1L131.2,746.0L131.4,743.5L131.6,741.0L131.7,738.5L131.9,735.9L132.1,733.4L132.2,731.6L132.3,730.9L132.5,728.4L132.7,725.9L132.9,723.4L133.1,720.9L133.2,718.4L133.3,718.4L133.4,716.0L133.7,713.5L133.9,711.0L134.1,708.6L134.3,706.3L134.3,706.1L134.5,703.7L134.7,701.3L134.9,698.9L135.2,696.4L135.3,695.3L135.4,694.0L135.6,691.6L135.9,689.2L136.1,686.9L136.3,685.0L136.3,684.5L136.6,682.1L136.8,679.8L137.1,677.4L137.3,675.5L137.4,675.1L137.6,672.8L137.9,670.5L138.1,668.1L138.3,666.7L138.4,665.9L138.7,663.6L139.0,661.3L139.3,659.0L139.3,658.5L139.6,656.8L139.8,654.5L140.1,652.3L140.3,650.9L140.5,650.1L140.8,647.8L141.1,645.6L141.4,643.7L141.4,643.5L141.7,641.3L142.0,639.1L142.4,636.9L142.4,636.9L142.7,634.8L143.0,632.7L143.4,630.6L143.4,630.5L143.7,628.4L144.1,626.3L144.4,624.6L144.5,624.3L144.8,622.2L145.2,620.1L145.4,619.0L145.6,618.1L146.0,616.1L146.3,614.0L146.4,613.6L146.7,612.0L147.1,610.0L147.4,608.6L147.5,608.1L148.0,606.1L148.4,604.1L148.4,603.8L148.8,602.2L149.2,600.3L149.5,599.3L149.7,598.4L150.1,596.5L150.5,595.0L150.6,594.6L151.0,592.7L151.5,590.9L151.5,590.9L151.9,589.1L152.4,587.3L152.5,587.1L152.9,585.6L153.4,583.8L153.5,583.5L153.9,582.1L154.4,580.5L154.5,580.1L154.9,578.9L155.4,577.3L155.5,577.0L156.0,575.7L156.5,574.2L156.5,574.1L157.1,572.8L157.6,571.5L157.6,571.4L158.2,570.0L158.6,569.1L158.7,568.7L159.3,567.4L159.6,566.9L159.9,566.2L160.5,565.1L160.6,564.9L161.1,564.0L161.6,563.2L161.7,563.0L162.3,562.0L162.6,561.6L163.0,561.1L163.6,560.2L163.6,560.2L164.3,559.4L164.6,558.9L164.9,558.6L165.6,557.8L165.7,557.8L166.3,557.1L166.7,556.7L166.9,556.5L167.6,555.8L167.7,555.8L168.4,555.2L168.7,555.0L169.1,554.7L169.7,554.2L169.8,554.1L170.6,553.6L170.7,553.5L171.3,553.1L171.7,552.9L172.1,552.7L172.7,552.3L172.8,552.3L173.6,551.9L173.8,551.8L174.4,551.5L174.8,551.4L175.2,551.2L175.8,551.0L176.1,550.9L176.8,550.7L176.9,550.7L177.7,550.4L177.8,550.4L178.6,550.2L178.8,550.2L179.5,550.1L179.8,550.0L180.4,550.0L180.9,549.9L181.3,549.9L181.9,549.9L182.2,549.9L182.9,549.9L183.1,549.9L183.9,549.9L184.0,549.9L184.9,550.0L185.0,550.0L185.9,550.1L185.9,550.1L186.9,550.2L186.9,550.2L187.9,550.4L187.9,550.4L188.9,550.7L189.0,550.7L190.0,551.0L190.0,551.0L191.0,551.3L191.0,551.3L192.0,551.6L192.0,551.6L193.0,552.0L193.1,552.0L194.0,552.4L194.2,552.5L195.0,552.9L195.3,553.0L196.0,553.4L196.4,553.5L197.1,553.9L197.6,554.1L198.1,554.4L198.7,554.8L199.1,555.0L199.9,555.5L200.1,555.6L201.1,556.2L201.1,556.2L202.1,556.9L202.3,557.0L203.1,557.6L203.5,557.8L204.1,558.3L204.7,558.7L205.2,559.0L206.0,559.7L206.2,559.8L207.2,560.6L207.3,560.6L208.2,561.4L208.6,561.7L209.2,562.2L209.9,562.8L210.2,563.1L211.2,563.9L211.2,564.0L212.2,564.9L212.6,565.2L213.3,565.8L213.9,566.4L214.3,566.7L215.3,567.7L215.3,567.7L216.3,568.7L216.8,569.1L217.3,569.7L218.2,570.6L218.3,570.7L219.3,571.7L219.6,572.1L220.4,572.8L221.1,573.6L221.4,573.9L222.4,575.0L222.6,575.2L223.4,576.1L224.1,576.9L224.4,577.2L225.4,578.3L225.7,578.6L226.4,579.5L227.3,580.4L227.4,580.7L228.5,581.8L228.9,582.3L229.5,583.0L230.5,584.2L230.5,584.3L231.5,585.5L232.1,586.2L232.5,586.7L233.5,588.0L233.8,588.3L234.5,589.3L235.5,590.4L235.5,590.5L236.6,591.8L237.2,592.6L237.6,593.1L238.6,594.5L238.9,594.9L239.6,595.8L240.6,597.1L240.7,597.2L241.6,598.5L242.5,599.6L242.6,599.8L243.6,601.2L244.3,602.1L244.7,602.6L245.7,604.0L246.1,604.6L246.7,605.4L247.7,606.8L248.0,607.2L248.7,608.2L249.7,609.7L249.9,609.9L250.7,611.1L251.7,612.6L251.8,612.7L252.8,614.0L253.8,615.5L253.8,615.5L254.8,617.0L255.8,618.4L255.8,618.4L256.8,619.9L257.8,621.4L257.8,621.4L258.8,622.9L259.8,624.4L259.8,624.5L260.9,626.0L261.9,627.5L261.9,627.5L262.9,629.1L263.9,630.6L264.0,630.7L264.9,632.2L265.9,633.7L266.1,634.0L266.9,635.3L268.0,636.9L268.3,637.4L269.0,638.4L270.0,640.0L270.5,640.8L271.0,641.6L272.0,643.2L272.7,644.3L273.0,644.8L274.0,646.4L275.0,647.9L275.0,648.0L276.1,649.7L277.1,651.3L277.3,651.6L278.1,652.9L279.1,654.5L279.6,655.4L280.1,656.2L281.1,657.8L282.0,659.2L282.1,659.5L283.1,661.1L284.2,662.8L284.4,663.2L285.2,664.5L286.2,666.1L286.8,667.2L287.2,667.8L288.2,669.5L289.2,671.2L289.3,671.3L290.2,672.9L291.2,674.5L291.8,675.5L292.3,676.2L293.3,677.9L294.3,679.6L294.3,679.7L295.3,681.3L296.3,683.1L296.9,684.1L297.3,684.8L298.3,686.5L299.3,688.2L299.5,688.5L300.4,689.9L301.4,691.6L302.2,693.1L302.4,693.4L303.4,695.1L304.4,696.8L304.9,697.7L305.4,698.6L306.4,700.3L307.5,702.1L307.6,702.4L308.5,703.8L309.5,705.6L310.4,707.2L310.5,707.3L311.5,709.1L312.5,710.8L313.3,712.1L313.5,712.6L314.5,714.4L315.6,716.1L316.1,717.1L316.6,717.9L317.6,719.7L318.6,721.4L319.0,722.2L319.6,723.2L320.6,725.0L321.6,726.8L322.0,727.4L322.6,728.6L323.7,730.3L324.7,732.1L325.0,732.6L325.7,733.9L326.7,735.7L327.7,737.5L328.0,738.0L328.7,739.3L329.7,741.1L330.7,742.9L331.1,743.5L331.8,744.7L332.8,746.5L333.8,748.3L334.2,749.0L334.8,750.1L335.8,751.9L336.8,753.7L337.4,754.7L337.8,755.5L338.8,757.3L339.9,759.1L340.6,760.4L340.9,760.9L341.9,762.7L342.9,764.6L343.9,766.3L343.9,766.4L344.9,768.2L345.9,770.0L346.9,771.8L347.2,772.3L348.0,773.6L349.0,775.5L350.0,777.3L350.6,778.3L351.0,779.1L354.0,784.5" fill="none" stroke="#ff0000" stroke-width="1.5" stroke-linejoin="round"/>
<path d="M157.9,782.4L158.1,777.8L158.1,777.1L158.4,771.9L158.7,766.7L158.7,766.1L158.9,761.6L159.2,756.5L159.3,754.7L159.5,751.5L159.7,746.5L159.9,743.8L160.0,741.6L160.3,736.8L160.5,733.3L160.6,731.9L160.9,727.2L161.1,723.2L161.1,722.5L161.4,717.8L161.7,713.4L161.7,713.2L162.0,708.6L162.3,704.1L162.3,704.0L162.6,699.6L162.9,695.2L162.9,695.0L163.2,690.9L163.5,686.6L163.5,686.3L163.8,682.3L164.1,678.1L164.1,677.9L164.4,674.0L164.7,669.9L164.7,669.8L165.0,665.8L165.3,662.0L165.3,661.8L165.6,657.9L165.9,654.5L165.9,654.0L166.2,650.1L166.5,647.3L166.6,646.3L166.9,642.6L167.1,640.4L167.2,638.9L167.5,635.3L167.7,633.7L167.9,631.7L168.2,628.2L168.3,627.3L168.5,624.7L168.9,621.3L168.9,621.1L169.2,617.9L169.5,615.2L169.5,614.6L169.9,611.3L170.1,609.5L170.2,608.1L170.6,604.9L170.7,604.0L170.9,601.8L171.3,598.8L171.3,598.8L171.6,595.7L171.9,593.7L172.0,592.8L172.3,589.9L172.5,588.9L172.7,587.0L173.1,584.2L173.1,584.2L173.4,581.5L173.7,579.8L173.8,578.8L174.2,576.2L174.3,575.5L174.5,573.6L174.8,571.4L174.9,571.0L175.3,568.6L175.4,567.5L175.7,566.1L176.0,563.8L176.0,563.8L176.4,561.4L176.6,560.2L176.8,559.2L177.2,556.9L177.2,556.8L177.6,554.8L177.8,553.6L178.0,552.7L178.4,550.6L178.4,550.5L178.8,548.6L179.0,547.5L179.2,546.6L179.6,544.7L179.6,544.7L180.0,542.9L180.2,542.0L180.4,541.1L180.8,539.4L180.9,539.3L181.3,537.6L181.4,537.0L181.7,535.9L182.0,534.7L182.1,534.3L182.6,532.8L182.6,532.5L183.0,531.2L183.2,530.4L183.4,529.8L183.8,528.5L183.9,528.3L184.3,527.0L184.4,526.6L184.7,525.6L185.0,524.8L185.2,524.4L185.6,523.2L185.6,523.1L186.1,521.9L186.2,521.6L186.5,520.8L186.8,520.1L187.0,519.7L187.4,518.8L187.5,518.6L187.9,517.6L188.0,517.4L188.4,516.7L188.6,516.2L188.9,515.7L189.2,515.1L189.3,514.8L189.8,514.0L189.8,514.0L190.3,513.2L190.4,513.1L190.8,512.5L191.0,512.1L191.3,511.8L191.6,511.3L191.8,511.1L192.2,510.5L192.3,510.5L192.8,509.9L192.8,509.8L193.3,509.3L193.4,509.2L193.8,508.8L194.0,508.6L194.3,508.4L194.6,508.1L194.8,507.9L195.2,507.6L195.3,507.6L195.8,507.2L195.8,507.2L196.3,506.9L196.4,506.9L196.9,506.6L197.0,506.6L197.4,506.4L197.6,506.3L197.9,506.2L198.2,506.1L198.5,506.1L198.8,506.0L199.0,505.9L199.4,505.9L199.5,505.9L200.0,505.8L200.1,505.8L200.6,505.8L200.6,505.8L201.2,505.9L201.2,505.9L201.7,506.0L201.8,506.0L202.3,506.1L202.4,506.2L202.9,506.3L203.0,506.4L203.4,506.6L203.6,506.6L204.0,506.9L204.2,506.9L204.6,507.2L204.8,507.3L205.2,507.6L205.4,507.7L205.8,508.0L206.0,508.2L206.4,508.5L206.6,508.7L207.0,509.0L207.2,509.2L207.5,509.6L207.7,509.8L208.2,510.2L208.3,510.4L208.8,510.9L208.9,511.1L209.4,511.6L209.5,511.8L210.0,512.3L210.1,512.5L210.6,513.1L210.7,513.3L211.2,514.0L211.3,514.1L211.9,514.9L211.9,515.0L212.5,515.8L212.5,515.9L213.1,516.8L213.1,516.8L213.7,517.7L213.8,517.8L214.3,518.7L214.4,518.8L214.9,519.7L215.1,519.9L215.5,520.8L215.7,521.1L216.1,521.8L216.4,522.3L216.7,522.9L217.0,523.5L217.3,524.1L217.7,524.8L217.9,525.2L218.4,526.1L218.5,526.4L219.0,527.5L219.1,527.6L219.7,528.9L219.7,528.9L220.3,530.1L220.4,530.3L220.9,531.4L221.1,531.8L221.5,532.7L221.8,533.4L222.1,534.1L222.5,535.0L222.7,535.5L223.2,536.6L223.3,536.8L223.9,538.3L223.9,538.3L224.5,539.7L224.6,540.0L225.1,541.1L225.3,541.8L225.7,542.6L226.1,543.6L226.3,544.1L226.8,545.4L226.9,545.7L227.5,547.2L227.5,547.3L228.1,548.8L228.3,549.2L228.7,550.3L229.0,551.2L229.3,552.0L229.8,553.3L229.9,553.6L230.5,555.2L230.5,555.3L231.1,556.9L231.3,557.4L231.7,558.6L232.0,559.6L232.3,560.3L232.8,561.8L232.9,562.0L233.5,563.7L233.6,564.1L234.1,565.5L234.4,566.4L234.7,567.3L235.2,568.7L235.3,569.0L235.9,570.9L235.9,571.1L236.5,572.7L236.7,573.5L237.1,574.5L237.5,576.0L237.7,576.4L238.3,578.2L238.3,578.5L238.9,580.1L239.2,581.1L239.5,582.0L240.0,583.7L240.0,583.9L240.6,585.9L240.8,586.4L241.2,587.8L241.6,589.1L241.8,589.8L242.4,591.7L242.5,591.8L243.0,593.7L243.3,594.6L243.6,595.7L244.2,597.5L244.2,597.7L244.8,599.8L245.0,600.4L245.4,601.8L245.9,603.3L246.0,603.9L246.6,605.9L246.7,606.3L247.2,608.0L247.6,609.3L247.8,610.1L248.4,612.2L248.5,612.4L249.0,614.3L249.4,615.6L249.6,616.5L250.2,618.6L250.3,618.7L250.8,620.8L251.2,622.0L251.4,622.9L252.0,625.1L252.1,625.3L252.6,627.3L253.0,628.6L253.2,629.5L253.8,631.7L253.9,632.0L254.4,634.0L254.8,635.4L255.0,636.2L255.6,638.5L255.7,638.9L256.2,640.7L256.7,642.4L256.8,643.0L257.4,645.3L257.6,646.0L258.0,647.6L258.5,649.7L258.6,649.9L259.2,652.2L259.5,653.4L259.8,654.5L260.4,656.9L260.4,657.1L261.0,659.2L261.4,660.9L261.6,661.6L262.2,664.0L262.4,664.7L262.8,666.3L263.4,668.6L263.4,668.7L264.0,671.1L264.3,672.6L264.6,673.5L265.2,675.9L265.3,676.6L265.8,678.3L266.3,680.6L266.4,680.8L267.0,683.2L267.3,684.7L267.6,685.7L268.2,688.1L268.3,688.9L268.8,690.6L269.4,693.0L269.4,693.1L270.0,695.5L270.4,697.3L270.6,698.0L271.2,700.5L271.4,701.6L271.8,703.0L272.4,705.5L272.5,706.0L272.9,708.0L273.5,710.4L273.5,710.6L274.1,713.1L274.6,714.9L274.7,715.6L275.3,718.2L275.6,719.4L275.9,720.7L276.5,723.3L276.7,724.0L277.1,725.9L277.7,728.4L277.8,728.6L278.3,731.0L278.9,733.3L278.9,733.6L279.5,736.2L279.9,738.0L280.1,738.8L280.7,741.4L281.0,742.8L281.3,744.0L281.9,746.6L282.2,747.6L282.5,749.2L283.1,751.9L283.3,752.5L283.7,754.5L284.3,757.1L284.4,757.5L284.9,759.8L285.5,762.4L285.5,762.5L286.1,765.1L286.7,767.5L286.7,767.8L287.3,770.4L287.8,772.6L287.9,773.1L288.5,775.8L288.9,777.8L289.1,778.5L290.1,783.0" fill="none" stroke="#ff0000" stroke-width="1.5" stroke-linejoin="round" stroke-dasharray="3 5.6"/>
<path d="M157.0,779.2C157.2,775.8 157.7,769.1 158.4,758.7C159.1,748.3 160.1,731.5 161.2,716.7C162.2,701.9 163.5,683.6 164.7,670.0C165.9,656.4 166.9,646.8 168.2,635.0C169.5,623.2 171.2,608.5 172.5,599.0C173.8,589.5 175.0,584.5 176.2,578.0C177.4,571.5 178.4,566.2 179.6,560.0C180.8,553.8 181.8,546.3 183.1,540.8C184.4,535.3 185.8,531.0 187.3,526.8C188.8,522.6 190.6,518.5 192.2,515.6C193.8,512.7 195.5,510.8 197.1,509.3C198.7,507.8 200.7,507.0 202.0,506.5C203.3,506.0 203.8,505.8 204.8,506.2C205.9,506.6 206.8,507.4 208.3,508.6C209.8,509.8 212.1,511.3 213.8,513.4C215.6,515.5 217.5,519.2 218.8,521.2C220.1,523.2 220.0,522.2 221.5,525.5C223.0,528.8 225.7,535.2 227.8,540.8C229.9,546.3 232.4,553.1 234.3,558.8C236.2,564.5 237.6,569.4 239.2,575.1C240.8,580.8 242.6,587.4 244.1,593.1C245.6,598.8 246.8,604.0 248.2,609.4C249.5,614.8 251.0,620.6 252.2,625.7C253.4,630.8 254.1,634.2 255.5,640.0C256.9,645.8 258.0,649.9 260.4,660.7C262.8,671.5 266.8,691.0 269.7,705.0C272.6,719.0 275.4,732.3 277.9,744.7C280.3,757.1 283.3,773.6 284.4,779.4" fill="none" stroke="#0000ff" stroke-width="1.5" stroke-linejoin="round"/>
<path d="M178.0,790.5L178.2,785.2L178.2,784.4L178.4,778.3L178.5,775.9L178.7,772.2L178.9,766.8L178.9,766.2L179.1,760.3L179.2,757.9L179.3,754.4L179.5,749.2L179.5,748.6L179.8,742.8L179.8,740.7L180.0,737.1L180.2,732.3L180.2,731.5L180.4,725.9L180.5,724.1L180.7,720.4L180.8,716.1L180.9,714.9L181.1,709.5L181.2,708.3L181.3,704.2L181.5,700.6L181.6,698.9L181.8,693.7L181.8,693.1L182.0,688.5L182.2,685.7L182.3,683.4L182.5,678.5L182.5,678.4L182.7,673.4L182.8,671.5L183.0,668.5L183.1,664.6L183.2,663.6L183.4,658.8L183.5,657.9L183.7,654.0L183.8,651.3L183.9,649.3L184.1,644.8L184.1,644.7L184.4,640.1L184.5,638.6L184.6,635.6L184.8,632.4L184.9,631.2L185.1,626.8L185.1,626.4L185.3,622.4L185.4,620.5L185.6,618.1L185.8,614.8L185.8,613.9L186.1,609.7L186.1,609.2L186.3,605.6L186.4,603.7L186.6,601.6L186.8,598.4L186.8,597.6L187.1,593.7L187.1,593.1L187.3,589.8L187.4,588.1L187.6,586.0L187.7,583.1L187.8,582.2L188.1,578.5L188.1,578.3L188.3,574.9L188.4,573.5L188.6,571.3L188.7,568.9L188.8,567.7L189.1,564.4L189.1,564.3L189.3,560.9L189.4,560.1L189.6,557.5L189.7,555.8L189.9,554.2L190.1,551.7L190.1,551.0L190.4,547.8L190.4,547.7L190.6,544.6L190.7,543.7L190.9,541.6L191.0,539.9L191.2,538.6L191.4,536.2L191.4,535.6L191.7,532.7L191.7,532.6L192.0,529.9L192.0,529.1L192.2,527.1L192.4,525.7L192.5,524.4L192.7,522.4L192.8,521.7L193.0,519.2L193.0,519.1L193.3,516.5L193.3,516.1L193.6,514.0L193.7,513.1L193.9,511.6L194.0,510.2L194.1,509.2L194.3,507.4L194.4,506.8L194.7,504.7L194.7,504.6L195.0,502.3L195.0,502.1L195.2,500.2L195.3,499.5L195.5,498.1L195.6,497.1L195.8,496.0L196.0,494.7L196.1,494.0L196.3,492.4L196.4,492.1L196.6,490.3L196.6,490.2L196.9,488.4L197.0,488.1L197.2,486.6L197.3,486.1L197.5,484.9L197.6,484.2L197.8,483.2L198.0,482.3L198.1,481.6L198.3,480.5L198.4,480.1L198.6,478.8L198.7,478.6L198.9,477.2L199.0,477.2L199.2,475.8L199.3,475.7L199.5,474.5L199.6,474.2L199.8,473.2L199.9,472.8L200.1,472.0L200.3,471.5L200.4,470.8L200.6,470.2L200.7,469.7L200.9,469.1L201.0,468.7L201.2,468.0L201.3,467.7L201.6,466.9L201.6,466.7L201.9,466.0L201.9,465.9L202.2,465.1L202.2,465.0L202.5,464.3L202.6,464.2L202.9,463.5L202.9,463.5L203.2,462.9L203.2,462.8L203.5,462.3L203.6,462.1L203.8,461.7L203.9,461.6L204.1,461.2L204.2,461.1L204.4,460.8L204.5,460.6L204.7,460.4L204.9,460.2L205.0,460.1L205.2,459.9L205.3,459.8L205.5,459.7L205.7,459.6L205.9,459.5L206.0,459.4L206.2,459.3L206.3,459.3L206.5,459.2L206.6,459.2L206.8,459.2L206.9,459.2L207.2,459.2L207.3,459.3L207.5,459.3L207.6,459.4L207.8,459.5L207.9,459.5L208.2,459.7L208.2,459.7L208.5,459.9L208.6,460.0L208.8,460.2L208.9,460.3L209.1,460.6L209.2,460.7L209.5,461.0L209.6,461.1L209.8,461.4L209.9,461.6L210.1,462.0L210.2,462.1L210.5,462.5L210.6,462.7L210.8,463.1L210.9,463.3L211.1,463.8L211.2,464.0L211.5,464.5L211.6,464.8L211.8,465.2L211.9,465.6L212.1,466.0L212.3,466.4L212.4,466.9L212.6,467.3L212.8,467.8L213.0,468.3L213.1,468.7L213.3,469.3L213.4,469.7L213.6,470.4L213.8,470.8L214.0,471.5L214.1,471.8L214.3,472.7L214.4,472.9L214.7,473.9L214.7,474.1L215.0,475.2L215.1,475.3L215.4,476.5L215.4,476.6L215.7,477.8L215.7,477.9L216.1,479.2L216.1,479.3L216.4,480.5L216.5,480.8L216.7,481.9L216.8,482.4L217.0,483.4L217.2,484.0L217.4,484.9L217.5,485.6L217.7,486.4L217.9,487.3L218.0,488.0L218.3,489.1L218.4,489.6L218.6,490.9L218.7,491.2L219.0,492.8L219.0,492.9L219.4,494.6L219.4,494.7L219.7,496.3L219.7,496.6L220.0,498.1L220.1,498.6L220.3,500.0L220.5,500.7L220.7,501.8L220.9,502.8L221.0,503.7L221.2,505.0L221.3,505.6L221.6,507.2L221.7,507.6L222.0,509.5L222.0,509.6L222.3,511.6L222.4,511.8L222.6,513.6L222.7,514.2L223.0,515.7L223.1,516.7L223.3,517.9L223.5,519.1L223.6,520.0L223.9,521.7L224.0,522.2L224.3,524.3L224.3,524.4L224.6,526.6L224.7,526.9L224.9,528.9L225.0,529.6L225.3,531.2L225.4,532.3L225.6,533.6L225.8,535.1L225.9,535.9L226.2,538.0L226.3,538.3L226.6,540.7L226.6,540.9L226.9,543.2L227.0,543.8L227.3,545.7L227.4,546.8L227.6,548.2L227.8,549.9L227.9,550.7L228.2,553.0L228.2,553.2L228.6,555.8L228.6,556.1L228.9,558.4L229.0,559.4L229.2,561.1L229.4,562.6L229.6,563.7L229.8,565.9L229.9,566.4L230.2,569.1L230.2,569.3L230.5,571.9L230.6,572.7L230.9,574.6L231.1,576.2L231.2,577.4L231.5,579.7L231.5,580.2L231.9,583.1L231.9,583.2L232.2,585.9L232.3,586.8L232.5,588.8L232.7,590.5L232.9,591.7L233.1,594.2L233.2,594.7L233.5,597.6L233.6,598.0L233.8,600.6L234.0,601.8L234.2,603.6L234.4,605.7L234.5,606.6L234.8,609.6L234.8,609.6L235.2,612.7L235.2,613.5L235.5,615.8L235.7,617.6L235.8,618.9L236.1,621.6L236.1,622.0L236.5,625.1L236.5,625.8L236.8,628.3L237.0,629.9L237.1,631.5L237.4,634.1L237.5,634.7L237.8,637.9L237.8,638.4L238.1,641.2L238.3,642.7L238.4,644.4L238.7,647.1L238.8,647.7L239.1,651.0L239.2,651.5L239.4,654.3L239.6,656.0L239.8,657.7L240.0,660.5L240.1,661.0L240.4,664.4L240.5,665.1L240.8,667.8L240.9,669.7L241.1,671.2L241.4,674.3L241.4,674.6L241.7,678.1L241.8,679.1L242.1,681.5L242.3,683.8L242.4,685.0L242.7,688.5L242.7,688.6L243.1,692.0L243.2,693.5L243.4,695.6L243.7,698.4L243.7,699.1L244.0,702.7L244.1,703.4L244.4,706.2L244.6,708.4L244.7,709.8L245.0,713.4L245.0,713.5L245.4,717.1L245.5,718.6L245.7,720.7L246.0,723.7L246.0,724.3L246.3,728.0L246.4,729.0L246.7,731.7L246.9,734.2L247.0,735.4L247.3,739.1L247.4,739.5L247.7,742.8L247.8,744.9L248.0,746.6L248.3,750.3L248.3,750.3L248.7,754.1L248.8,755.7L249.0,757.9L249.3,761.2L249.3,761.7L249.6,765.5L249.8,766.8L250.0,769.3L250.2,772.4L250.3,773.1L250.7,778.0" fill="none" stroke="#0000ff" stroke-width="1.5" stroke-linejoin="round" stroke-dasharray="3 5.6"/>
</g>
<g clip-path="url(#cbr)">
<path d="M504.1,395.3C504.1,399.3 504.2,427.9 504.3,435.7C504.4,443.5 505.2,466.9 505.5,473.0C505.8,479.1 506.8,492.9 507.1,496.4C507.5,499.9 508.5,504.5 509.0,508.0C509.5,511.5 511.8,527.9 512.5,531.4C513.2,534.9 515.3,540.4 516.0,543.0C516.7,545.6 518.8,554.7 519.5,557.0C520.2,559.3 522.0,563.9 523.0,566.4C524.0,568.9 528.6,579.0 530.0,581.5C531.4,584.0 535.1,589.2 537.0,591.7C538.9,594.2 546.4,603.9 548.7,606.8C551.0,609.7 557.7,618.1 560.3,620.8C562.9,623.5 571.5,631.1 574.3,633.7C577.1,636.3 585.6,644.2 588.4,646.5C591.2,648.8 599.6,654.9 602.4,657.0C605.2,659.1 613.1,665.4 616.4,667.5C619.7,669.6 631.3,675.8 635.0,678.0C638.7,680.2 650.9,688.1 653.7,689.7C656.5,691.3 661.1,693.2 663.0,694.4C664.9,695.6 670.4,700.1 673.0,701.5C675.6,702.9 686.0,706.9 689.3,708.5C692.6,710.1 702.2,716.1 705.7,717.9C709.2,719.6 720.8,724.2 724.3,726.0C727.8,727.8 737.7,733.9 740.7,735.4C743.7,736.9 750.5,738.8 754.7,740.5C758.9,742.2 778.7,751.2 782.7,752.9C786.7,754.6 792.1,756.7 794.4,757.5C796.7,758.3 802.5,759.2 806.0,760.6C809.5,762.0 824.9,769.6 829.4,771.5C833.9,773.4 849.3,778.4 851.5,779.2" fill="none" stroke="#ff0000" stroke-width="1.5" stroke-linejoin="round"/>
<path d="M515.9,794.6L516.0,790.7L516.0,790.1L516.2,785.6L516.4,781.1L516.5,776.6L516.7,772.2L516.9,767.8L517.0,764.8L517.1,763.5L517.3,759.2L517.5,754.9L517.6,750.6L517.8,746.4L518.0,742.3L518.1,741.9L518.2,738.2L518.4,734.1L518.6,730.0L518.8,726.0L519.1,722.1L519.1,721.6L519.3,718.1L519.5,714.3L519.7,710.4L519.9,706.6L520.1,703.5L520.1,702.8L520.4,699.1L520.6,695.4L520.8,691.8L521.1,688.1L521.1,687.2L521.3,684.6L521.6,681.0L521.8,677.6L522.1,674.1L522.2,672.6L522.3,670.7L522.6,667.3L522.8,664.0L523.1,660.7L523.2,659.5L523.4,657.5L523.6,654.3L523.9,651.2L524.2,648.0L524.2,647.6L524.5,645.0L524.8,641.9L525.0,639.0L525.2,636.9L525.3,636.0L525.6,633.1L525.9,630.3L526.2,627.5L526.3,627.2L526.6,624.7L526.9,622.0L527.2,619.3L527.3,618.4L527.5,616.7L527.8,614.1L528.2,611.6L528.3,610.4L528.5,609.1L528.8,606.6L529.2,604.2L529.4,603.1L529.5,601.8L529.9,599.5L530.3,597.3L530.4,596.5L530.6,595.0L531.0,592.9L531.4,590.7L531.4,590.5L531.7,588.7L532.1,586.6L532.4,585.1L532.5,584.6L532.9,582.7L533.3,580.8L533.5,580.1L533.7,579.0L534.1,577.2L534.5,575.7L534.6,575.4L535.0,573.7L535.4,572.1L535.5,571.7L535.8,570.4L536.3,568.9L536.5,568.0L536.7,567.4L537.2,565.9L537.6,564.7L537.7,564.5L538.1,563.1L538.6,561.8L538.6,561.7L539.1,560.5L539.6,559.2L539.6,559.1L540.0,558.0L540.5,556.9L540.7,556.6L541.1,555.8L541.6,554.7L541.7,554.5L542.1,553.7L542.6,552.7L542.7,552.5L543.1,551.8L543.7,550.9L543.7,550.8L544.2,550.1L544.8,549.3L544.8,549.3L545.4,548.5L545.8,548.0L545.9,547.8L546.5,547.1L546.8,546.8L547.1,546.5L547.7,545.9L547.8,545.8L548.3,545.4L548.9,544.9L548.9,544.9L549.5,544.4L549.9,544.1L550.1,544.0L550.8,543.6L550.9,543.5L551.4,543.3L552.0,543.0L552.1,543.0L552.7,542.7L553.0,542.6L553.4,542.5L554.0,542.3L554.1,542.3L554.8,542.2L555.0,542.1L555.5,542.1L556.1,542.0L556.2,542.0L556.9,542.0L557.1,542.0L557.6,542.0L558.1,542.0L558.4,542.1L559.1,542.1L559.2,542.1L559.9,542.3L560.2,542.3L560.7,542.5L561.2,542.6L561.4,542.7L562.2,542.9L562.2,542.9L563.0,543.2L563.3,543.3L563.8,543.5L564.3,543.7L564.7,543.9L565.3,544.2L565.5,544.3L566.3,544.7L566.3,544.7L567.2,545.2L567.4,545.3L568.1,545.7L568.4,545.9L569.0,546.2L569.4,546.5L569.8,546.8L570.5,547.2L570.7,547.4L571.5,547.9L571.7,548.1L572.5,548.7L572.6,548.7L573.5,549.5L573.5,549.5L574.5,550.2L574.6,550.3L575.5,551.0L575.6,551.1L576.4,551.9L576.6,552.0L577.4,552.7L577.6,552.9L578.4,553.7L578.7,553.9L579.5,554.6L579.7,554.8L580.5,555.6L580.7,555.8L581.6,556.6L581.8,556.8L582.6,557.7L582.8,557.8L583.7,558.8L583.8,558.9L584.8,559.9L584.8,560.0L585.9,561.1L585.9,561.1L586.9,562.2L587.0,562.3L587.9,563.3L588.2,563.6L588.9,564.5L589.3,564.9L590.0,565.6L590.5,566.2L591.0,566.8L591.7,567.6L592.0,568.0L592.9,569.0L593.1,569.2L594.1,570.5L594.1,570.5L595.1,571.7L595.3,572.0L596.1,573.0L596.6,573.5L597.2,574.2L597.9,575.1L598.2,575.5L599.1,576.7L599.2,576.8L600.2,578.1L600.5,578.4L601.3,579.4L601.8,580.1L602.3,580.8L603.1,581.8L603.3,582.1L604.4,583.4L604.5,583.6L605.4,584.8L605.9,585.4L606.4,586.2L607.2,587.3L607.4,587.5L608.5,588.9L608.7,589.2L609.5,590.3L610.1,591.1L610.5,591.7L611.5,593.1L611.6,593.1L612.6,594.5L613.0,595.2L613.6,596.0L614.5,597.2L614.6,597.4L615.7,598.8L616.0,599.3L616.7,600.3L617.6,601.5L617.7,601.7L618.7,603.2L619.1,603.7L619.8,604.6L620.7,605.9L620.8,606.1L621.8,607.5L622.3,608.2L622.8,609.0L623.9,610.5L623.9,610.6L624.9,612.0L625.6,612.9L625.9,613.5L627.0,615.0L627.2,615.4L628.0,616.5L628.9,617.8L629.0,618.0L630.0,619.5L630.6,620.3L631.1,621.0L632.1,622.5L632.4,622.9L633.1,624.0L634.1,625.4L634.2,625.5L635.2,627.0L635.9,628.1L636.2,628.5L637.2,630.1L637.7,630.8L638.3,631.6L639.3,633.1L639.5,633.5L640.3,634.6L641.3,636.2L641.4,636.3L642.4,637.7L643.3,639.1L643.4,639.2L644.4,640.8L645.2,641.9L645.5,642.3L646.5,643.9L647.1,644.8L647.5,645.4L648.5,646.9L649.1,647.8L649.6,648.5L650.6,650.0L651.1,650.7L651.6,651.6L652.6,653.1L653.1,653.8L653.7,654.7L654.7,656.2L655.1,656.8L655.7,657.8L656.8,659.3L657.2,659.9L657.8,660.9L658.8,662.4L659.3,663.1L659.8,663.9L660.9,665.5L661.4,666.3L661.9,667.0L662.9,668.6L663.6,669.5L663.9,670.1L665.0,671.7L665.7,672.8L666.0,673.2L667.0,674.7L668.0,676.1L668.1,676.3L669.1,677.8L670.1,679.3L670.2,679.5L671.1,680.9L672.2,682.4L672.5,682.9L673.2,683.9L674.2,685.5L674.8,686.3L675.2,687.0L676.3,688.5L677.1,689.8L677.3,690.0L678.3,691.6L679.4,693.1L679.5,693.3L680.4,694.6L681.4,696.1L681.9,696.8L682.4,697.6L683.5,699.1L684.3,700.4L684.5,700.7L685.5,702.2L686.5,703.7L686.8,704.0L687.6,705.2L688.6,706.7L689.3,707.7L689.6,708.2L690.7,709.7L691.7,711.2L691.8,711.4L692.7,712.7L693.7,714.2L694.4,715.1L694.8,715.6L695.8,717.1L696.8,718.6L697.0,718.8L697.8,720.1L698.9,721.6L699.6,722.6L699.9,723.0L700.9,724.5L702.0,726.0L702.3,726.5L703.0,727.5L704.0,728.9L705.0,730.3L705.0,730.4L706.1,731.9L707.1,733.3L707.8,734.2L708.1,734.8L709.2,736.2L710.2,737.7L710.5,738.2L711.2,739.1L712.2,740.6L713.3,742.0L713.4,742.1L714.3,743.4L715.3,744.9L716.2,746.2L716.3,746.3L717.4,747.7L718.4,749.2L719.1,750.2L719.4,750.6L720.5,752.0L721.5,753.4L722.1,754.3L722.5,754.9L723.5,756.3L724.6,757.7L725.1,758.3L725.6,759.1L726.6,760.5L727.6,761.9L728.1,762.5L728.7,763.3L729.7,764.7L730.7,766.1L731.1,766.6L731.8,767.5L732.8,768.9L733.8,770.3L734.2,770.8L734.8,771.6L735.9,773.0L736.9,774.4L737.4,775.1L737.9,775.8L738.9,777.1L740.0,778.5L740.6,779.3L741.0,779.9L743.8,783.6" fill="none" stroke="#ff0000" stroke-width="1.5" stroke-linejoin="round" stroke-dasharray="3 5.6"/>
<line x1="503.8" y1="395.55" x2="503.8" y2="779.4" stroke="#0000ff" stroke-width="1.5"/>
<path d="M504.0,700.0C504.1,695.0 504.5,658.4 504.6,650.0C504.7,641.6 505.1,620.7 505.3,616.0C505.5,611.3 506.2,605.4 506.5,603.0C506.8,600.6 507.6,593.7 507.8,591.7C508.0,589.7 508.1,584.3 508.5,582.7C508.9,581.1 510.8,576.4 511.3,575.7C511.8,575.1 513.2,576.8 513.7,576.2C514.2,575.6 515.4,570.9 516.0,569.9C516.6,568.9 518.7,566.2 519.5,565.9C520.3,565.6 523.2,566.9 524.2,566.8C525.2,566.7 528.7,564.5 530.0,564.7C531.3,564.9 535.7,568.1 537.0,568.7C538.3,569.3 541.4,569.9 542.8,570.6C544.2,571.3 548.8,574.1 551.0,575.7C553.2,577.3 562.7,584.6 565.0,586.2C567.3,587.8 571.7,590.0 574.3,591.7C576.9,593.4 587.4,600.7 590.7,603.3C594.0,605.9 603.5,614.5 607.0,617.3C610.5,620.1 622.0,628.4 625.7,631.3C629.4,634.2 640.9,643.7 644.4,646.5C647.9,649.3 657.1,656.7 660.7,659.3C664.3,661.9 676.0,669.1 680.0,672.3C684.0,675.5 696.8,687.6 701.0,691.0C705.2,694.4 718.0,703.2 722.0,706.2C726.0,709.2 737.9,719.2 740.7,721.4C743.5,723.6 747.2,726.4 750.0,728.4C752.8,730.4 765.4,738.8 768.7,741.2C772.0,743.7 779.7,750.6 782.7,752.9C785.7,755.2 796.2,762.6 799.0,764.5C801.8,766.4 808.6,770.0 810.7,771.5C812.9,773.0 819.5,778.4 820.5,779.2" fill="none" stroke="#0000ff" stroke-width="1.5" stroke-linejoin="round"/>
<path d="M534.9,789.8L535.1,785.4L535.1,784.8L535.4,779.9L535.7,775.0L535.8,772.2L535.9,770.1L536.2,765.3L536.4,760.6L536.5,759.6L536.7,755.9L537.0,751.2L537.2,747.6L537.3,746.6L537.5,742.1L537.8,737.5L537.9,736.2L538.1,733.1L538.4,728.7L538.6,725.2L538.7,724.3L539.0,719.9L539.2,715.7L539.3,714.7L539.5,711.4L539.8,707.2L540.0,704.8L540.1,703.1L540.4,699.0L540.7,695.2L540.7,694.9L541.0,690.9L541.3,687.0L541.4,686.1L541.6,683.1L542.0,679.2L542.1,677.4L542.3,675.4L542.6,671.6L542.8,669.0L542.9,667.9L543.2,664.2L543.5,661.1L543.6,660.6L543.9,657.0L544.2,653.4L544.2,653.4L544.5,649.9L544.9,646.5L544.9,646.2L545.2,643.1L545.6,639.7L545.6,639.2L545.9,636.4L546.2,633.1L546.3,632.5L546.6,629.9L546.9,626.7L547.0,626.2L547.3,623.6L547.7,620.5L547.7,620.1L548.0,617.5L548.4,614.5L548.4,614.3L548.7,611.5L549.1,608.7L549.1,608.6L549.5,605.8L549.8,603.4L549.9,603.0L550.2,600.2L550.5,598.3L550.6,597.5L551.0,594.8L551.2,593.5L551.4,592.2L551.8,589.6L551.9,588.9L552.2,587.1L552.6,584.6L552.6,584.4L553.0,582.2L553.3,580.2L553.4,579.8L553.8,577.4L554.0,576.2L554.2,575.1L554.6,572.9L554.7,572.4L555.0,570.6L555.4,568.7L555.5,568.5L555.9,566.4L556.1,565.2L556.3,564.3L556.7,562.2L556.8,561.9L557.2,560.3L557.5,558.8L557.6,558.3L558.1,556.4L558.2,555.8L558.5,554.6L558.9,552.9L559.0,552.8L559.4,551.0L559.6,550.2L559.9,549.3L560.3,547.7L560.3,547.6L560.8,546.0L561.0,545.2L561.3,544.4L561.7,542.9L561.7,542.9L562.2,541.4L562.4,540.8L562.7,540.0L563.1,538.7L563.2,538.6L563.7,537.2L563.8,536.8L564.1,535.9L564.5,534.9L564.6,534.6L565.1,533.4L565.2,533.2L565.6,532.3L565.9,531.6L566.2,531.1L566.6,530.1L566.7,530.0L567.2,529.0L567.3,528.7L567.7,528.0L568.0,527.4L568.2,527.0L568.7,526.2L568.8,526.1L569.3,525.3L569.4,525.1L569.8,524.5L570.1,524.0L570.4,523.7L570.8,523.1L570.9,523.0L571.5,522.3L571.5,522.2L572.0,521.6L572.2,521.4L572.6,521.0L572.9,520.7L573.1,520.5L573.6,520.0L573.7,520.0L574.3,519.5L574.3,519.5L574.9,519.1L575.0,519.0L575.4,518.7L575.7,518.5L576.0,518.4L576.4,518.2L576.6,518.1L577.1,517.9L577.2,517.8L577.8,517.6L577.8,517.6L578.4,517.5L578.5,517.5L579.0,517.4L579.2,517.3L579.7,517.3L579.9,517.3L580.3,517.3L580.6,517.3L580.9,517.3L581.3,517.3L581.5,517.3L582.0,517.4L582.2,517.4L582.7,517.6L582.8,517.6L583.4,517.8L583.5,517.8L584.1,518.0L584.1,518.0L584.8,518.3L584.8,518.3L585.4,518.6L585.5,518.7L586.1,519.0L586.2,519.0L586.8,519.4L586.9,519.5L587.5,519.8L587.6,519.9L588.1,520.3L588.3,520.5L588.8,520.9L589.0,521.0L589.5,521.4L589.7,521.6L590.2,522.1L590.4,522.2L590.9,522.7L591.1,522.9L591.7,523.4L591.8,523.6L592.4,524.2L592.5,524.3L593.1,525.0L593.2,525.1L593.8,525.8L593.9,525.9L594.6,526.7L594.6,526.8L595.3,527.6L595.3,527.6L596.0,528.5L596.1,528.6L596.7,529.5L596.8,529.6L597.4,530.4L597.6,530.7L598.1,531.4L598.4,531.8L598.8,532.5L599.1,532.9L599.5,533.5L599.9,534.1L600.2,534.6L600.7,535.3L600.9,535.7L601.5,536.6L601.6,536.9L602.3,537.9L602.3,538.0L603.0,539.2L603.1,539.3L603.7,540.4L603.9,540.7L604.4,541.7L604.7,542.2L605.1,542.9L605.6,543.7L605.8,544.2L606.4,545.3L606.5,545.6L607.2,546.9L607.2,546.9L607.9,548.3L608.1,548.5L608.6,549.6L608.9,550.2L609.3,551.0L609.8,552.0L610.0,552.5L610.7,553.7L610.7,553.9L611.4,555.4L611.5,555.6L612.2,556.9L612.4,557.5L612.9,558.4L613.3,559.4L613.6,559.9L614.2,561.4L614.3,561.5L615.0,563.0L615.1,563.4L615.7,564.6L616.0,565.5L616.4,566.2L616.9,567.6L617.1,567.9L617.8,569.5L617.9,569.8L618.5,571.2L618.8,572.0L619.2,572.8L619.7,574.3L619.9,574.5L620.6,576.2L620.7,576.6L621.3,578.0L621.7,579.0L622.0,579.7L622.6,581.4L622.7,581.5L623.4,583.2L623.6,583.8L624.1,585.0L624.6,586.3L624.8,586.8L625.5,588.6L625.6,588.9L626.2,590.5L626.6,591.5L626.9,592.3L627.6,594.1L627.6,594.2L628.3,596.0L628.6,596.8L629.0,597.9L629.6,599.6L629.7,599.8L630.4,601.7L630.6,602.4L631.1,603.6L631.7,605.2L631.8,605.5L632.5,607.4L632.7,608.1L633.2,609.3L633.8,611.0L633.9,611.3L634.6,613.2L634.8,614.0L635.3,615.2L635.9,617.0L636.0,617.1L636.7,619.1L637.0,620.0L637.4,621.1L638.1,623.1L638.1,623.1L638.8,625.1L639.2,626.2L639.5,627.1L640.2,629.1L640.3,629.4L640.9,631.1L641.4,632.6L641.6,633.1L642.3,635.1L642.5,635.9L643.0,637.2L643.7,639.2L643.7,639.2L644.4,641.3L644.8,642.5L645.1,643.3L645.8,645.4L646.0,645.9L646.5,647.4L647.1,649.3L647.2,649.5L647.9,651.5L648.3,652.8L648.6,653.6L649.3,655.7L649.5,656.3L650.0,657.8L650.7,659.8L650.7,659.9L651.4,661.9L651.9,663.4L652.1,664.0L652.8,666.1L653.1,667.1L653.5,668.2L654.2,670.4L654.3,670.7L654.9,672.5L655.5,674.4L655.6,674.6L656.3,676.7L656.8,678.2L657.0,678.8L657.7,681.0L658.0,682.0L658.4,683.1L659.1,685.2L659.3,685.9L659.8,687.4L660.5,689.5L660.6,689.8L661.2,691.7L661.8,693.7L661.9,693.8L662.6,696.0L663.1,697.7L663.3,698.1L664.0,700.3L664.4,701.7L664.7,702.5L665.4,704.6L665.8,705.8L666.1,706.8L666.8,709.0L667.1,709.9L667.5,711.2L668.2,713.3L668.4,714.1L668.9,715.5L669.6,717.7L669.8,718.3L670.3,719.9L671.0,722.1L671.1,722.5L671.7,724.3L672.4,726.5L672.5,726.8L673.1,728.7L673.8,730.9L673.9,731.2L674.5,733.1L675.2,735.4L675.3,735.6L675.9,737.6L676.6,739.8L676.7,740.0L677.3,742.0L678.0,744.2L678.1,744.5L678.7,746.5L679.4,748.7L679.5,749.1L680.1,750.9L680.8,753.2L680.9,753.6L681.5,755.4L682.2,757.7L682.4,758.3L682.9,759.9L683.6,762.2L683.8,763.0L684.3,764.4L685.0,766.7L685.3,767.7L685.7,768.9L686.4,771.2L686.8,772.5L687.1,773.5L687.8,775.7L688.3,777.3L688.5,778.0L689.8,782.2" fill="none" stroke="#0000ff" stroke-width="1.5" stroke-linejoin="round" stroke-dasharray="3 5.6"/>
</g>
<text x="134.40" y="49.60" font-family="Liberation Sans, sans-serif" font-size="25.55" xml:space="preserve">LCDM</text>
<line x1="162.70" y1="83.60" x2="176.40" y2="83.60" stroke="#000" stroke-width="1.25"/>
<line x1="162.70" y1="87.80" x2="176.40" y2="87.80" stroke="#000" stroke-width="1.25"/>
<text x="186.40" y="92.70" font-family="Liberation Sans, sans-serif" font-size="25.55" xml:space="preserve">0</text>
<line x1="300.00" y1="41.50" x2="314.40" y2="41.50" stroke="#000" stroke-width="1.25"/>
<line x1="300.00" y1="45.80" x2="314.40" y2="45.80" stroke="#000" stroke-width="1.25"/>
<line x1="381.90" y1="38.90" x2="390.30" y2="38.90" stroke="#000" stroke-width="1.1"/>
<circle cx="424.85" cy="52.15" r="4.75" fill="none" stroke="#000" stroke-width="1.2"/>
<circle cx="424.85" cy="52.15" r="1.4" fill="#000"/>
<line x1="300.00" y1="76.90" x2="308.30" y2="76.90" stroke="#000" stroke-width="1.1"/>
<line x1="269.60" y1="117.00" x2="308.00" y2="117.00" stroke="#ff0000" stroke-width="1.5"/>
<line x1="269.30" y1="145.50" x2="307.00" y2="145.50" stroke="#ff0000" stroke-width="1.5" stroke-dasharray="3 5.6"/>
<line x1="269.60" y1="174.50" x2="308.00" y2="174.50" stroke="#0000ff" stroke-width="1.5"/>
<line x1="269.30" y1="203.50" x2="307.00" y2="203.50" stroke="#0000ff" stroke-width="1.5" stroke-dasharray="3 5.6"/>
<text x="322.23" y="124.00" font-family="Liberation Sans, sans-serif" font-size="25.55" xml:space="preserve">30 [ 0.67 ]</text>
<text x="322.18" y="181.20" font-family="Liberation Sans, sans-serif" font-size="25.55" xml:space="preserve">50 [ 0.33 ]</text>
<text x="518.20" y="49.60" font-family="Liberation Sans, sans-serif" font-size="25.55" xml:space="preserve">LCDM</text>
<line x1="546.50" y1="83.60" x2="560.20" y2="83.60" stroke="#000" stroke-width="1.25"/>
<line x1="546.50" y1="87.80" x2="560.20" y2="87.80" stroke="#000" stroke-width="1.25"/>
<text x="570.20" y="92.70" font-family="Liberation Sans, sans-serif" font-size="25.55" xml:space="preserve">0</text>
<line x1="683.80" y1="41.50" x2="698.20" y2="41.50" stroke="#000" stroke-width="1.25"/>
<line x1="683.80" y1="45.80" x2="698.20" y2="45.80" stroke="#000" stroke-width="1.25"/>
<line x1="765.70" y1="38.90" x2="774.10" y2="38.90" stroke="#000" stroke-width="1.1"/>
<circle cx="808.65" cy="52.15" r="4.75" fill="none" stroke="#000" stroke-width="1.2"/>
<circle cx="808.65" cy="52.15" r="1.4" fill="#000"/>
<line x1="683.80" y1="76.90" x2="692.10" y2="76.90" stroke="#000" stroke-width="1.1"/>
<line x1="653.40" y1="117.00" x2="691.80" y2="117.00" stroke="#ff0000" stroke-width="1.5"/>
<line x1="653.10" y1="145.50" x2="690.80" y2="145.50" stroke="#ff0000" stroke-width="1.5" stroke-dasharray="3 5.6"/>
<line x1="653.40" y1="174.50" x2="691.80" y2="174.50" stroke="#0000ff" stroke-width="1.5"/>
<line x1="653.10" y1="203.50" x2="690.80" y2="203.50" stroke="#0000ff" stroke-width="1.5" stroke-dasharray="3 5.6"/>
<text x="706.03" y="124.00" font-family="Liberation Sans, sans-serif" font-size="25.55" xml:space="preserve">30 [ </text>
<path transform="translate(755.74,124.00) scale(25.55)" d="M0.259 0L0.347 0L0.347 -0.709L0.289 -0.709C0.258 -0.600 0.238 -0.585 0.102 -0.568L0.102 -0.505L0.259 -0.505Z" fill="#000"/>
<text x="769.95" y="124.00" font-family="Liberation Sans, sans-serif" font-size="25.55" xml:space="preserve">.54 ]</text>
<text x="705.98" y="181.20" font-family="Liberation Sans, sans-serif" font-size="25.55" xml:space="preserve">50 [ 0.60 ]</text>
<text x="135.04" y="433.90" font-family="Liberation Sans, sans-serif" font-size="25.55" xml:space="preserve">SCDM</text>
<line x1="162.70" y1="467.90" x2="176.40" y2="467.90" stroke="#000" stroke-width="1.25"/>
<line x1="162.70" y1="472.10" x2="176.40" y2="472.10" stroke="#000" stroke-width="1.25"/>
<text x="186.40" y="477.00" font-family="Liberation Sans, sans-serif" font-size="25.55" xml:space="preserve">0</text>
<line x1="300.00" y1="425.80" x2="314.40" y2="425.80" stroke="#000" stroke-width="1.25"/>
<line x1="300.00" y1="430.10" x2="314.40" y2="430.10" stroke="#000" stroke-width="1.25"/>
<line x1="381.90" y1="423.20" x2="390.30" y2="423.20" stroke="#000" stroke-width="1.1"/>
<circle cx="424.85" cy="436.45" r="4.75" fill="none" stroke="#000" stroke-width="1.2"/>
<circle cx="424.85" cy="436.45" r="1.4" fill="#000"/>
<line x1="300.00" y1="461.20" x2="308.30" y2="461.20" stroke="#000" stroke-width="1.1"/>
<line x1="269.60" y1="501.30" x2="308.00" y2="501.30" stroke="#ff0000" stroke-width="1.5"/>
<line x1="269.30" y1="529.80" x2="307.00" y2="529.80" stroke="#ff0000" stroke-width="1.5" stroke-dasharray="3 5.6"/>
<line x1="269.60" y1="558.80" x2="308.00" y2="558.80" stroke="#0000ff" stroke-width="1.5"/>
<line x1="269.30" y1="587.80" x2="307.00" y2="587.80" stroke="#0000ff" stroke-width="1.5" stroke-dasharray="3 5.6"/>
<text x="322.23" y="508.30" font-family="Liberation Sans, sans-serif" font-size="25.55" xml:space="preserve">30 [ 0.28 ]</text>
<text x="322.18" y="565.50" font-family="Liberation Sans, sans-serif" font-size="25.55" xml:space="preserve">50 [ 0.</text>
<path transform="translate(393.20,565.50) scale(25.55)" d="M0.259 0L0.347 0L0.347 -0.709L0.289 -0.709C0.258 -0.600 0.238 -0.585 0.102 -0.568L0.102 -0.505L0.259 -0.505Z" fill="#000"/>
<text x="407.41" y="565.50" font-family="Liberation Sans, sans-serif" font-size="25.55" xml:space="preserve">4 ]</text>
<text x="518.20" y="433.90" font-family="Liberation Sans, sans-serif" font-size="25.55" xml:space="preserve">LCDM</text>
<line x1="546.50" y1="467.90" x2="560.20" y2="467.90" stroke="#000" stroke-width="1.25"/>
<line x1="546.50" y1="472.10" x2="560.20" y2="472.10" stroke="#000" stroke-width="1.25"/>
<path transform="translate(572.09,477.00) scale(25.55)" d="M0.259 0L0.347 0L0.347 -0.709L0.289 -0.709C0.258 -0.600 0.238 -0.585 0.102 -0.568L0.102 -0.505L0.259 -0.505Z" fill="#000"/>
<line x1="683.80" y1="425.80" x2="698.20" y2="425.80" stroke="#000" stroke-width="1.25"/>
<line x1="683.80" y1="430.10" x2="698.20" y2="430.10" stroke="#000" stroke-width="1.25"/>
<line x1="765.70" y1="423.20" x2="774.10" y2="423.20" stroke="#000" stroke-width="1.1"/>
<circle cx="808.65" cy="436.45" r="4.75" fill="none" stroke="#000" stroke-width="1.2"/>
<circle cx="808.65" cy="436.45" r="1.4" fill="#000"/>
<line x1="683.80" y1="461.20" x2="692.10" y2="461.20" stroke="#000" stroke-width="1.1"/>
<line x1="653.40" y1="501.30" x2="691.80" y2="501.30" stroke="#ff0000" stroke-width="1.5"/>
<line x1="653.10" y1="529.80" x2="690.80" y2="529.80" stroke="#ff0000" stroke-width="1.5" stroke-dasharray="3 5.6"/>
<line x1="653.40" y1="558.80" x2="691.80" y2="558.80" stroke="#0000ff" stroke-width="1.5"/>
<line x1="653.10" y1="587.80" x2="690.80" y2="587.80" stroke="#0000ff" stroke-width="1.5" stroke-dasharray="3 5.6"/>
<text x="706.03" y="508.30" font-family="Liberation Sans, sans-serif" font-size="25.55" xml:space="preserve">30 [ 0.63 ]</text>
<text x="705.98" y="565.50" font-family="Liberation Sans, sans-serif" font-size="25.55" xml:space="preserve">50 [ 0.34 ]</text>
<line x1="65.30" y1="301.35" x2="72.70" y2="301.35" stroke="#000" stroke-width="1.25"/>
<line x1="65.30" y1="374.55" x2="72.70" y2="374.55" stroke="#000" stroke-width="1.25"/>
<path transform="translate(69.39,170.75) scale(25.55)" d="M0.259 0L0.347 0L0.347 -0.709L0.289 -0.709C0.258 -0.600 0.238 -0.585 0.102 -0.568L0.102 -0.505L0.259 -0.505Z" fill="#000"/>
<text x="41.10" y="243.75" font-family="Liberation Sans, sans-serif" font-size="25.55" xml:space="preserve">0.</text>
<path transform="translate(62.41,243.75) scale(25.55)" d="M0.259 0L0.347 0L0.347 -0.709L0.289 -0.709C0.258 -0.600 0.238 -0.585 0.102 -0.568L0.102 -0.505L0.259 -0.505Z" fill="#000"/>
<line x1="65.30" y1="685.65" x2="72.70" y2="685.65" stroke="#000" stroke-width="1.25"/>
<line x1="65.30" y1="758.85" x2="72.70" y2="758.85" stroke="#000" stroke-width="1.25"/>
<path transform="translate(69.39,555.05) scale(25.55)" d="M0.259 0L0.347 0L0.347 -0.709L0.289 -0.709C0.258 -0.600 0.238 -0.585 0.102 -0.568L0.102 -0.505L0.259 -0.505Z" fill="#000"/>
<text x="41.10" y="628.05" font-family="Liberation Sans, sans-serif" font-size="25.55" xml:space="preserve">0.</text>
<path transform="translate(62.41,628.05) scale(25.55)" d="M0.259 0L0.347 0L0.347 -0.709L0.289 -0.709C0.258 -0.600 0.238 -0.585 0.102 -0.568L0.102 -0.505L0.259 -0.505Z" fill="#000"/>
<text x="105.46" y="817.70" font-family="Liberation Sans, sans-serif" font-size="25.55" xml:space="preserve">-</text>
<path transform="translate(113.97,817.70) scale(25.55)" d="M0.259 0L0.347 0L0.347 -0.709L0.289 -0.709C0.258 -0.600 0.238 -0.585 0.102 -0.568L0.102 -0.505L0.259 -0.505Z" fill="#000"/>
<text x="202.40" y="817.70" font-family="Liberation Sans, sans-serif" font-size="25.55" xml:space="preserve">0</text>
<path transform="translate(293.09,817.70) scale(25.55)" d="M0.259 0L0.347 0L0.347 -0.709L0.289 -0.709C0.258 -0.600 0.238 -0.585 0.102 -0.568L0.102 -0.505L0.259 -0.505Z" fill="#000"/>
<text x="382.62" y="817.70" font-family="Liberation Sans, sans-serif" font-size="25.55" xml:space="preserve">2</text>
<text x="489.26" y="817.70" font-family="Liberation Sans, sans-serif" font-size="25.55" xml:space="preserve">-</text>
<path transform="translate(497.77,817.70) scale(25.55)" d="M0.259 0L0.347 0L0.347 -0.709L0.289 -0.709C0.258 -0.600 0.238 -0.585 0.102 -0.568L0.102 -0.505L0.259 -0.505Z" fill="#000"/>
<text x="586.20" y="817.70" font-family="Liberation Sans, sans-serif" font-size="25.55" xml:space="preserve">0</text>
<path transform="translate(676.89,817.70) scale(25.55)" d="M0.259 0L0.347 0L0.347 -0.709L0.289 -0.709C0.258 -0.600 0.238 -0.585 0.102 -0.568L0.102 -0.505L0.259 -0.505Z" fill="#000"/>
<text x="766.42" y="817.70" font-family="Liberation Sans, sans-serif" font-size="25.55" xml:space="preserve">2</text>
<text x="857.93" y="817.70" font-family="Liberation Sans, sans-serif" font-size="25.55" xml:space="preserve">3</text>
<text transform="translate(134.25,92.70) scale(1.1077,1.0010)" font-family="Liberation Serif, serif" font-size="26" font-style="italic">z</text>
<text transform="translate(248.82,50.60) scale(0.8092,1.0039)" font-family="Liberation Serif, serif" font-size="25.5" font-style="italic" stroke="#000" stroke-width="0.15" stroke-linejoin="round">M</text>
<text transform="translate(269.04,57.25) scale(1.1596,1.0000)" font-family="Liberation Serif, serif" font-size="14.6" font-weight="bold">min</text>
<text transform="translate(318.98,50.60) scale(1.0330,1.0002)" font-family="Liberation Serif, serif" font-size="25" stroke="#000" stroke-width="0.15" stroke-linejoin="round">10</text>
<text transform="translate(347.45,43.50) scale(1.0629,0.9922)" font-family="Liberation Serif, serif" font-size="15" stroke="#000" stroke-width="0.5" stroke-linejoin="round">13</text>
<text transform="translate(362.09,50.60) scale(1.1473,0.9593)" font-family="Liberation Serif, serif" font-size="25.5" font-style="italic">h</text>
<text transform="translate(391.22,43.40) scale(0.9244,0.9823)" font-family="Liberation Serif, serif" font-size="15" stroke="#000" stroke-width="0.5" stroke-linejoin="round">1</text>
<text transform="translate(398.72,50.60) scale(0.8092,1.0039)" font-family="Liberation Serif, serif" font-size="25.5" font-style="italic" stroke="#000" stroke-width="0.15" stroke-linejoin="round">M</text>
<text transform="translate(245.93,88.40) scale(1.0792,0.9800)" font-family="Liberation Serif, serif" font-size="25.5" font-style="italic" stroke="#000" stroke-width="0.15" stroke-linejoin="round">R</text>
<text transform="translate(262.88,95.00) scale(1.0290,0.9981)" font-family="Liberation Serif, serif" font-size="17" font-weight="bold">S</text>
<text transform="translate(272.27,89.42) scale(1.0411,1.1615)" font-family="Liberation Serif, serif" font-size="25" stroke="#000" stroke-width="0.15" stroke-linejoin="round">[</text>
<text transform="translate(279.66,88.40) scale(1.1742,0.9705)" font-family="Liberation Serif, serif" font-size="25.5" font-style="italic">h</text>
<text transform="translate(311.00,81.70) scale(0.8533,1.0220)" font-family="Liberation Serif, serif" font-size="15" stroke="#000" stroke-width="0.5" stroke-linejoin="round">1</text>
<text transform="translate(319.51,88.65) scale(0.7451,1.0000)" font-family="Liberation Serif, serif" font-size="25.3" stroke="#000" stroke-width="0.42" stroke-linejoin="round">M</text>
<text transform="translate(337.95,88.65) scale(1.1427,1.0000)" font-family="Liberation Serif, serif" font-size="25.3" stroke="#000" stroke-width="0.2" stroke-linejoin="round">p</text>
<text transform="translate(353.00,88.65) scale(1.1434,1.0000)" font-family="Liberation Serif, serif" font-size="25.3" stroke="#000" stroke-width="0.2" stroke-linejoin="round">c</text>
<text transform="translate(367.69,89.42) scale(1.0411,1.1615)" font-family="Liberation Serif, serif" font-size="25" stroke="#000" stroke-width="0.15" stroke-linejoin="round">]</text>
<text transform="translate(377.60,89.42) scale(1.0240,1.1615)" font-family="Liberation Serif, serif" font-size="25" stroke="#000" stroke-width="0.15" stroke-linejoin="round">[</text>
<text transform="translate(399.70,88.40) scale(1.0115,0.8214)" font-family="Liberation Serif, serif" font-size="25.5" font-style="italic" stroke="#000" stroke-width="0.15" stroke-linejoin="round">σ</text>
<text transform="translate(414.85,95.50) scale(0.9467,0.9203)" font-family="Liberation Serif, serif" font-size="17" font-weight="bold">hh</text>
<text transform="translate(447.11,89.42) scale(1.0069,1.1615)" font-family="Liberation Serif, serif" font-size="25" stroke="#000" stroke-width="0.15" stroke-linejoin="round">]</text>
<text transform="translate(323.66,153.30) scale(1.0000,1.0000)" font-family="Liberation Serif, serif" font-size="22.0" stroke="#000" stroke-width="0.2" stroke-linejoin="round">l</text>
<text transform="translate(331.98,153.30) scale(1.0494,1.0000)" font-family="Liberation Serif, serif" font-size="22.0" stroke="#000" stroke-width="0.2" stroke-linejoin="round">o</text>
<text transform="translate(343.84,153.30) scale(1.1034,1.0000)" font-family="Liberation Serif, serif" font-size="22.0" stroke="#000" stroke-width="0.2" stroke-linejoin="round">g</text>
<text transform="translate(357.56,153.30) scale(1.2024,1.0000)" font-family="Liberation Serif, serif" font-size="22.0" stroke="#000" stroke-width="0.2" stroke-linejoin="round">−</text>
<text transform="translate(374.20,153.30) scale(1.1636,1.0000)" font-family="Liberation Serif, serif" font-size="22.0" stroke="#000" stroke-width="0.2" stroke-linejoin="round">n</text>
<text transform="translate(388.33,153.30) scale(1.1221,1.0000)" font-family="Liberation Serif, serif" font-size="22.0" stroke="#000" stroke-width="0.2" stroke-linejoin="round">o</text>
<text transform="translate(401.04,153.30) scale(1.3527,1.0000)" font-family="Liberation Serif, serif" font-size="22.0" stroke="#000" stroke-width="0.2" stroke-linejoin="round">r</text>
<text transform="translate(411.37,153.30) scale(1.2485,1.0000)" font-family="Liberation Serif, serif" font-size="22.0" stroke="#000" stroke-width="0.2" stroke-linejoin="round">m</text>
<text transform="translate(433.62,153.30) scale(1.2755,1.0000)" font-family="Liberation Serif, serif" font-size="22.0" stroke="#000" stroke-width="0.2" stroke-linejoin="round">a</text>
<text transform="translate(447.51,153.30) scale(1.1273,1.0000)" font-family="Liberation Serif, serif" font-size="22.0" stroke="#000" stroke-width="0.2" stroke-linejoin="round">l</text>
<text transform="translate(323.66,211.00) scale(1.0000,1.0000)" font-family="Liberation Serif, serif" font-size="22.0" stroke="#000" stroke-width="0.2" stroke-linejoin="round">l</text>
<text transform="translate(331.98,211.00) scale(1.0494,1.0000)" font-family="Liberation Serif, serif" font-size="22.0" stroke="#000" stroke-width="0.2" stroke-linejoin="round">o</text>
<text transform="translate(343.84,211.00) scale(1.1034,1.0000)" font-family="Liberation Serif, serif" font-size="22.0" stroke="#000" stroke-width="0.2" stroke-linejoin="round">g</text>
<text transform="translate(357.56,211.00) scale(1.2024,1.0000)" font-family="Liberation Serif, serif" font-size="22.0" stroke="#000" stroke-width="0.2" stroke-linejoin="round">−</text>
<text transform="translate(374.20,211.00) scale(1.1636,1.0000)" font-family="Liberation Serif, serif" font-size="22.0" stroke="#000" stroke-width="0.2" stroke-linejoin="round">n</text>
<text transform="translate(388.33,211.00) scale(1.1221,1.0000)" font-family="Liberation Serif, serif" font-size="22.0" stroke="#000" stroke-width="0.2" stroke-linejoin="round">o</text>
<text transform="translate(401.04,211.00) scale(1.3527,1.0000)" font-family="Liberation Serif, serif" font-size="22.0" stroke="#000" stroke-width="0.2" stroke-linejoin="round">r</text>
<text transform="translate(411.37,211.00) scale(1.2485,1.0000)" font-family="Liberation Serif, serif" font-size="22.0" stroke="#000" stroke-width="0.2" stroke-linejoin="round">m</text>
<text transform="translate(433.62,211.00) scale(1.2755,1.0000)" font-family="Liberation Serif, serif" font-size="22.0" stroke="#000" stroke-width="0.2" stroke-linejoin="round">a</text>
<text transform="translate(447.51,211.00) scale(1.1273,1.0000)" font-family="Liberation Serif, serif" font-size="22.0" stroke="#000" stroke-width="0.2" stroke-linejoin="round">l</text>
<text transform="translate(518.05,92.70) scale(1.1077,1.0010)" font-family="Liberation Serif, serif" font-size="26" font-style="italic">z</text>
<text transform="translate(632.62,50.60) scale(0.8092,1.0039)" font-family="Liberation Serif, serif" font-size="25.5" font-style="italic" stroke="#000" stroke-width="0.15" stroke-linejoin="round">M</text>
<text transform="translate(652.84,57.25) scale(1.1596,1.0000)" font-family="Liberation Serif, serif" font-size="14.6" font-weight="bold">min</text>
<text transform="translate(702.78,50.60) scale(1.0330,1.0002)" font-family="Liberation Serif, serif" font-size="25" stroke="#000" stroke-width="0.15" stroke-linejoin="round">10</text>
<text transform="translate(731.25,43.50) scale(1.0629,0.9922)" font-family="Liberation Serif, serif" font-size="15" stroke="#000" stroke-width="0.5" stroke-linejoin="round">14</text>
<text transform="translate(745.89,50.60) scale(1.1473,0.9593)" font-family="Liberation Serif, serif" font-size="25.5" font-style="italic">h</text>
<text transform="translate(775.02,43.40) scale(0.9244,0.9823)" font-family="Liberation Serif, serif" font-size="15" stroke="#000" stroke-width="0.5" stroke-linejoin="round">1</text>
<text transform="translate(782.52,50.60) scale(0.8092,1.0039)" font-family="Liberation Serif, serif" font-size="25.5" font-style="italic" stroke="#000" stroke-width="0.15" stroke-linejoin="round">M</text>
<text transform="translate(629.73,88.40) scale(1.0792,0.9800)" font-family="Liberation Serif, serif" font-size="25.5" font-style="italic" stroke="#000" stroke-width="0.15" stroke-linejoin="round">R</text>
<text transform="translate(646.68,95.00) scale(1.0290,0.9981)" font-family="Liberation Serif, serif" font-size="17" font-weight="bold">S</text>
<text transform="translate(656.07,89.42) scale(1.0411,1.1615)" font-family="Liberation Serif, serif" font-size="25" stroke="#000" stroke-width="0.15" stroke-linejoin="round">[</text>
<text transform="translate(663.46,88.40) scale(1.1742,0.9705)" font-family="Liberation Serif, serif" font-size="25.5" font-style="italic">h</text>
<text transform="translate(694.80,81.70) scale(0.8533,1.0220)" font-family="Liberation Serif, serif" font-size="15" stroke="#000" stroke-width="0.5" stroke-linejoin="round">1</text>
<text transform="translate(703.31,88.65) scale(0.7451,1.0000)" font-family="Liberation Serif, serif" font-size="25.3" stroke="#000" stroke-width="0.42" stroke-linejoin="round">M</text>
<text transform="translate(721.75,88.65) scale(1.1427,1.0000)" font-family="Liberation Serif, serif" font-size="25.3" stroke="#000" stroke-width="0.2" stroke-linejoin="round">p</text>
<text transform="translate(736.80,88.65) scale(1.1434,1.0000)" font-family="Liberation Serif, serif" font-size="25.3" stroke="#000" stroke-width="0.2" stroke-linejoin="round">c</text>
<text transform="translate(751.49,89.42) scale(1.0411,1.1615)" font-family="Liberation Serif, serif" font-size="25" stroke="#000" stroke-width="0.15" stroke-linejoin="round">]</text>
<text transform="translate(761.40,89.42) scale(1.0240,1.1615)" font-family="Liberation Serif, serif" font-size="25" stroke="#000" stroke-width="0.15" stroke-linejoin="round">[</text>
<text transform="translate(783.50,88.40) scale(1.0115,0.8214)" font-family="Liberation Serif, serif" font-size="25.5" font-style="italic" stroke="#000" stroke-width="0.15" stroke-linejoin="round">σ</text>
<text transform="translate(798.65,95.50) scale(0.9467,0.9203)" font-family="Liberation Serif, serif" font-size="17" font-weight="bold">hh</text>
<text transform="translate(830.91,89.42) scale(1.0069,1.1615)" font-family="Liberation Serif, serif" font-size="25" stroke="#000" stroke-width="0.15" stroke-linejoin="round">]</text>
<text transform="translate(707.46,153.30) scale(1.0000,1.0000)" font-family="Liberation Serif, serif" font-size="22.0" stroke="#000" stroke-width="0.2" stroke-linejoin="round">l</text>
<text transform="translate(715.78,153.30) scale(1.0494,1.0000)" font-family="Liberation Serif, serif" font-size="22.0" stroke="#000" stroke-width="0.2" stroke-linejoin="round">o</text>
<text transform="translate(727.64,153.30) scale(1.1034,1.0000)" font-family="Liberation Serif, serif" font-size="22.0" stroke="#000" stroke-width="0.2" stroke-linejoin="round">g</text>
<text transform="translate(741.36,153.30) scale(1.2024,1.0000)" font-family="Liberation Serif, serif" font-size="22.0" stroke="#000" stroke-width="0.2" stroke-linejoin="round">−</text>
<text transform="translate(758.00,153.30) scale(1.1636,1.0000)" font-family="Liberation Serif, serif" font-size="22.0" stroke="#000" stroke-width="0.2" stroke-linejoin="round">n</text>
<text transform="translate(772.13,153.30) scale(1.1221,1.0000)" font-family="Liberation Serif, serif" font-size="22.0" stroke="#000" stroke-width="0.2" stroke-linejoin="round">o</text>
<text transform="translate(784.84,153.30) scale(1.3527,1.0000)" font-family="Liberation Serif, serif" font-size="22.0" stroke="#000" stroke-width="0.2" stroke-linejoin="round">r</text>
<text transform="translate(795.17,153.30) scale(1.2485,1.0000)" font-family="Liberation Serif, serif" font-size="22.0" stroke="#000" stroke-width="0.2" stroke-linejoin="round">m</text>
<text transform="translate(817.42,153.30) scale(1.2755,1.0000)" font-family="Liberation Serif, serif" font-size="22.0" stroke="#000" stroke-width="0.2" stroke-linejoin="round">a</text>
<text transform="translate(831.31,153.30) scale(1.1273,1.0000)" font-family="Liberation Serif, serif" font-size="22.0" stroke="#000" stroke-width="0.2" stroke-linejoin="round">l</text>
<text transform="translate(707.46,211.00) scale(1.0000,1.0000)" font-family="Liberation Serif, serif" font-size="22.0" stroke="#000" stroke-width="0.2" stroke-linejoin="round">l</text>
<text transform="translate(715.78,211.00) scale(1.0494,1.0000)" font-family="Liberation Serif, serif" font-size="22.0" stroke="#000" stroke-width="0.2" stroke-linejoin="round">o</text>
<text transform="translate(727.64,211.00) scale(1.1034,1.0000)" font-family="Liberation Serif, serif" font-size="22.0" stroke="#000" stroke-width="0.2" stroke-linejoin="round">g</text>
<text transform="translate(741.36,211.00) scale(1.2024,1.0000)" font-family="Liberation Serif, serif" font-size="22.0" stroke="#000" stroke-width="0.2" stroke-linejoin="round">−</text>
<text transform="translate(758.00,211.00) scale(1.1636,1.0000)" font-family="Liberation Serif, serif" font-size="22.0" stroke="#000" stroke-width="0.2" stroke-linejoin="round">n</text>
<text transform="translate(772.13,211.00) scale(1.1221,1.0000)" font-family="Liberation Serif, serif" font-size="22.0" stroke="#000" stroke-width="0.2" stroke-linejoin="round">o</text>
<text transform="translate(784.84,211.00) scale(1.3527,1.0000)" font-family="Liberation Serif, serif" font-size="22.0" stroke="#000" stroke-width="0.2" stroke-linejoin="round">r</text>
<text transform="translate(795.17,211.00) scale(1.2485,1.0000)" font-family="Liberation Serif, serif" font-size="22.0" stroke="#000" stroke-width="0.2" stroke-linejoin="round">m</text>
<text transform="translate(817.42,211.00) scale(1.2755,1.0000)" font-family="Liberation Serif, serif" font-size="22.0" stroke="#000" stroke-width="0.2" stroke-linejoin="round">a</text>
<text transform="translate(831.31,211.00) scale(1.1273,1.0000)" font-family="Liberation Serif, serif" font-size="22.0" stroke="#000" stroke-width="0.2" stroke-linejoin="round">l</text>
<text transform="translate(134.25,477.00) scale(1.1077,1.0010)" font-family="Liberation Serif, serif" font-size="26" font-style="italic">z</text>
<text transform="translate(248.82,434.90) scale(0.8092,1.0039)" font-family="Liberation Serif, serif" font-size="25.5" font-style="italic" stroke="#000" stroke-width="0.15" stroke-linejoin="round">M</text>
<text transform="translate(269.04,441.55) scale(1.1596,1.0000)" font-family="Liberation Serif, serif" font-size="14.6" font-weight="bold">min</text>
<text transform="translate(318.98,434.90) scale(1.0330,1.0002)" font-family="Liberation Serif, serif" font-size="25" stroke="#000" stroke-width="0.15" stroke-linejoin="round">10</text>
<text transform="translate(347.45,427.80) scale(1.0629,0.9922)" font-family="Liberation Serif, serif" font-size="15" stroke="#000" stroke-width="0.5" stroke-linejoin="round">13</text>
<text transform="translate(362.09,434.90) scale(1.1473,0.9593)" font-family="Liberation Serif, serif" font-size="25.5" font-style="italic">h</text>
<text transform="translate(391.22,427.70) scale(0.9244,0.9823)" font-family="Liberation Serif, serif" font-size="15" stroke="#000" stroke-width="0.5" stroke-linejoin="round">1</text>
<text transform="translate(398.72,434.90) scale(0.8092,1.0039)" font-family="Liberation Serif, serif" font-size="25.5" font-style="italic" stroke="#000" stroke-width="0.15" stroke-linejoin="round">M</text>
<text transform="translate(245.93,472.70) scale(1.0792,0.9800)" font-family="Liberation Serif, serif" font-size="25.5" font-style="italic" stroke="#000" stroke-width="0.15" stroke-linejoin="round">R</text>
<text transform="translate(262.88,479.30) scale(1.0290,0.9981)" font-family="Liberation Serif, serif" font-size="17" font-weight="bold">S</text>
<text transform="translate(272.27,473.72) scale(1.0411,1.1615)" font-family="Liberation Serif, serif" font-size="25" stroke="#000" stroke-width="0.15" stroke-linejoin="round">[</text>
<text transform="translate(279.66,472.70) scale(1.1742,0.9705)" font-family="Liberation Serif, serif" font-size="25.5" font-style="italic">h</text>
<text transform="translate(311.00,466.00) scale(0.8533,1.0220)" font-family="Liberation Serif, serif" font-size="15" stroke="#000" stroke-width="0.5" stroke-linejoin="round">1</text>
<text transform="translate(319.51,472.95) scale(0.7451,1.0000)" font-family="Liberation Serif, serif" font-size="25.3" stroke="#000" stroke-width="0.42" stroke-linejoin="round">M</text>
<text transform="translate(337.95,472.95) scale(1.1427,1.0000)" font-family="Liberation Serif, serif" font-size="25.3" stroke="#000" stroke-width="0.2" stroke-linejoin="round">p</text>
<text transform="translate(353.00,472.95) scale(1.1434,1.0000)" font-family="Liberation Serif, serif" font-size="25.3" stroke="#000" stroke-width="0.2" stroke-linejoin="round">c</text>
<text transform="translate(367.69,473.72) scale(1.0411,1.1615)" font-family="Liberation Serif, serif" font-size="25" stroke="#000" stroke-width="0.15" stroke-linejoin="round">]</text>
<text transform="translate(377.60,473.72) scale(1.0240,1.1615)" font-family="Liberation Serif, serif" font-size="25" stroke="#000" stroke-width="0.15" stroke-linejoin="round">[</text>
<text transform="translate(399.70,472.70) scale(1.0115,0.8214)" font-family="Liberation Serif, serif" font-size="25.5" font-style="italic" stroke="#000" stroke-width="0.15" stroke-linejoin="round">σ</text>
<text transform="translate(414.85,479.80) scale(0.9467,0.9203)" font-family="Liberation Serif, serif" font-size="17" font-weight="bold">hh</text>
<text transform="translate(447.11,473.72) scale(1.0069,1.1615)" font-family="Liberation Serif, serif" font-size="25" stroke="#000" stroke-width="0.15" stroke-linejoin="round">]</text>
<text transform="translate(323.66,537.60) scale(1.0000,1.0000)" font-family="Liberation Serif, serif" font-size="22.0" stroke="#000" stroke-width="0.2" stroke-linejoin="round">l</text>
<text transform="translate(331.98,537.60) scale(1.0494,1.0000)" font-family="Liberation Serif, serif" font-size="22.0" stroke="#000" stroke-width="0.2" stroke-linejoin="round">o</text>
<text transform="translate(343.84,537.60) scale(1.1034,1.0000)" font-family="Liberation Serif, serif" font-size="22.0" stroke="#000" stroke-width="0.2" stroke-linejoin="round">g</text>
<text transform="translate(357.56,537.60) scale(1.2024,1.0000)" font-family="Liberation Serif, serif" font-size="22.0" stroke="#000" stroke-width="0.2" stroke-linejoin="round">−</text>
<text transform="translate(374.20,537.60) scale(1.1636,1.0000)" font-family="Liberation Serif, serif" font-size="22.0" stroke="#000" stroke-width="0.2" stroke-linejoin="round">n</text>
<text transform="translate(388.33,537.60) scale(1.1221,1.0000)" font-family="Liberation Serif, serif" font-size="22.0" stroke="#000" stroke-width="0.2" stroke-linejoin="round">o</text>
<text transform="translate(401.04,537.60) scale(1.3527,1.0000)" font-family="Liberation Serif, serif" font-size="22.0" stroke="#000" stroke-width="0.2" stroke-linejoin="round">r</text>
<text transform="translate(411.37,537.60) scale(1.2485,1.0000)" font-family="Liberation Serif, serif" font-size="22.0" stroke="#000" stroke-width="0.2" stroke-linejoin="round">m</text>
<text transform="translate(433.62,537.60) scale(1.2755,1.0000)" font-family="Liberation Serif, serif" font-size="22.0" stroke="#000" stroke-width="0.2" stroke-linejoin="round">a</text>
<text transform="translate(447.51,537.60) scale(1.1273,1.0000)" font-family="Liberation Serif, serif" font-size="22.0" stroke="#000" stroke-width="0.2" stroke-linejoin="round">l</text>
<text transform="translate(323.66,595.30) scale(1.0000,1.0000)" font-family="Liberation Serif, serif" font-size="22.0" stroke="#000" stroke-width="0.2" stroke-linejoin="round">l</text>
<text transform="translate(331.98,595.30) scale(1.0494,1.0000)" font-family="Liberation Serif, serif" font-size="22.0" stroke="#000" stroke-width="0.2" stroke-linejoin="round">o</text>
<text transform="translate(343.84,595.30) scale(1.1034,1.0000)" font-family="Liberation Serif, serif" font-size="22.0" stroke="#000" stroke-width="0.2" stroke-linejoin="round">g</text>
<text transform="translate(357.56,595.30) scale(1.2024,1.0000)" font-family="Liberation Serif, serif" font-size="22.0" stroke="#000" stroke-width="0.2" stroke-linejoin="round">−</text>
<text transform="translate(374.20,595.30) scale(1.1636,1.0000)" font-family="Liberation Serif, serif" font-size="22.0" stroke="#000" stroke-width="0.2" stroke-linejoin="round">n</text>
<text transform="translate(388.33,595.30) scale(1.1221,1.0000)" font-family="Liberation Serif, serif" font-size="22.0" stroke="#000" stroke-width="0.2" stroke-linejoin="round">o</text>
<text transform="translate(401.04,595.30) scale(1.3527,1.0000)" font-family="Liberation Serif, serif" font-size="22.0" stroke="#000" stroke-width="0.2" stroke-linejoin="round">r</text>
<text transform="translate(411.37,595.30) scale(1.2485,1.0000)" font-family="Liberation Serif, serif" font-size="22.0" stroke="#000" stroke-width="0.2" stroke-linejoin="round">m</text>
<text transform="translate(433.62,595.30) scale(1.2755,1.0000)" font-family="Liberation Serif, serif" font-size="22.0" stroke="#000" stroke-width="0.2" stroke-linejoin="round">a</text>
<text transform="translate(447.51,595.30) scale(1.1273,1.0000)" font-family="Liberation Serif, serif" font-size="22.0" stroke="#000" stroke-width="0.2" stroke-linejoin="round">l</text>
<text transform="translate(518.05,477.00) scale(1.1077,1.0010)" font-family="Liberation Serif, serif" font-size="26" font-style="italic">z</text>
<text transform="translate(632.62,434.90) scale(0.8092,1.0039)" font-family="Liberation Serif, serif" font-size="25.5" font-style="italic" stroke="#000" stroke-width="0.15" stroke-linejoin="round">M</text>
<text transform="translate(652.84,441.55) scale(1.1596,1.0000)" font-family="Liberation Serif, serif" font-size="14.6" font-weight="bold">min</text>
<text transform="translate(702.78,434.90) scale(1.0330,1.0002)" font-family="Liberation Serif, serif" font-size="25" stroke="#000" stroke-width="0.15" stroke-linejoin="round">10</text>
<text transform="translate(731.25,427.80) scale(1.0629,0.9922)" font-family="Liberation Serif, serif" font-size="15" stroke="#000" stroke-width="0.5" stroke-linejoin="round">13</text>
<text transform="translate(745.89,434.90) scale(1.1473,0.9593)" font-family="Liberation Serif, serif" font-size="25.5" font-style="italic">h</text>
<text transform="translate(775.02,427.70) scale(0.9244,0.9823)" font-family="Liberation Serif, serif" font-size="15" stroke="#000" stroke-width="0.5" stroke-linejoin="round">1</text>
<text transform="translate(782.52,434.90) scale(0.8092,1.0039)" font-family="Liberation Serif, serif" font-size="25.5" font-style="italic" stroke="#000" stroke-width="0.15" stroke-linejoin="round">M</text>
<text transform="translate(629.73,472.70) scale(1.0792,0.9800)" font-family="Liberation Serif, serif" font-size="25.5" font-style="italic" stroke="#000" stroke-width="0.15" stroke-linejoin="round">R</text>
<text transform="translate(646.68,479.30) scale(1.0290,0.9981)" font-family="Liberation Serif, serif" font-size="17" font-weight="bold">S</text>
<text transform="translate(656.07,473.72) scale(1.0411,1.1615)" font-family="Liberation Serif, serif" font-size="25" stroke="#000" stroke-width="0.15" stroke-linejoin="round">[</text>
<text transform="translate(663.46,472.70) scale(1.1742,0.9705)" font-family="Liberation Serif, serif" font-size="25.5" font-style="italic">h</text>
<text transform="translate(694.80,466.00) scale(0.8533,1.0220)" font-family="Liberation Serif, serif" font-size="15" stroke="#000" stroke-width="0.5" stroke-linejoin="round">1</text>
<text transform="translate(703.31,472.95) scale(0.7451,1.0000)" font-family="Liberation Serif, serif" font-size="25.3" stroke="#000" stroke-width="0.42" stroke-linejoin="round">M</text>
<text transform="translate(721.75,472.95) scale(1.1427,1.0000)" font-family="Liberation Serif, serif" font-size="25.3" stroke="#000" stroke-width="0.2" stroke-linejoin="round">p</text>
<text transform="translate(736.80,472.95) scale(1.1434,1.0000)" font-family="Liberation Serif, serif" font-size="25.3" stroke="#000" stroke-width="0.2" stroke-linejoin="round">c</text>
<text transform="translate(751.49,473.72) scale(1.0411,1.1615)" font-family="Liberation Serif, serif" font-size="25" stroke="#000" stroke-width="0.15" stroke-linejoin="round">]</text>
<text transform="translate(761.40,473.72) scale(1.0240,1.1615)" font-family="Liberation Serif, serif" font-size="25" stroke="#000" stroke-width="0.15" stroke-linejoin="round">[</text>
<text transform="translate(783.50,472.70) scale(1.0115,0.8214)" font-family="Liberation Serif, serif" font-size="25.5" font-style="italic" stroke="#000" stroke-width="0.15" stroke-linejoin="round">σ</text>
<text transform="translate(798.65,479.80) scale(0.9467,0.9203)" font-family="Liberation Serif, serif" font-size="17" font-weight="bold">hh</text>
<text transform="translate(830.91,473.72) scale(1.0069,1.1615)" font-family="Liberation Serif, serif" font-size="25" stroke="#000" stroke-width="0.15" stroke-linejoin="round">]</text>
<text transform="translate(707.46,537.60) scale(1.0000,1.0000)" font-family="Liberation Serif, serif" font-size="22.0" stroke="#000" stroke-width="0.2" stroke-linejoin="round">l</text>
<text transform="translate(715.78,537.60) scale(1.0494,1.0000)" font-family="Liberation Serif, serif" font-size="22.0" stroke="#000" stroke-width="0.2" stroke-linejoin="round">o</text>
<text transform="translate(727.64,537.60) scale(1.1034,1.0000)" font-family="Liberation Serif, serif" font-size="22.0" stroke="#000" stroke-width="0.2" stroke-linejoin="round">g</text>
<text transform="translate(741.36,537.60) scale(1.2024,1.0000)" font-family="Liberation Serif, serif" font-size="22.0" stroke="#000" stroke-width="0.2" stroke-linejoin="round">−</text>
<text transform="translate(758.00,537.60) scale(1.1636,1.0000)" font-family="Liberation Serif, serif" font-size="22.0" stroke="#000" stroke-width="0.2" stroke-linejoin="round">n</text>
<text transform="translate(772.13,537.60) scale(1.1221,1.0000)" font-family="Liberation Serif, serif" font-size="22.0" stroke="#000" stroke-width="0.2" stroke-linejoin="round">o</text>
<text transform="translate(784.84,537.60) scale(1.3527,1.0000)" font-family="Liberation Serif, serif" font-size="22.0" stroke="#000" stroke-width="0.2" stroke-linejoin="round">r</text>
<text transform="translate(795.17,537.60) scale(1.2485,1.0000)" font-family="Liberation Serif, serif" font-size="22.0" stroke="#000" stroke-width="0.2" stroke-linejoin="round">m</text>
<text transform="translate(817.42,537.60) scale(1.2755,1.0000)" font-family="Liberation Serif, serif" font-size="22.0" stroke="#000" stroke-width="0.2" stroke-linejoin="round">a</text>
<text transform="translate(831.31,537.60) scale(1.1273,1.0000)" font-family="Liberation Serif, serif" font-size="22.0" stroke="#000" stroke-width="0.2" stroke-linejoin="round">l</text>
<text transform="translate(707.46,595.30) scale(1.0000,1.0000)" font-family="Liberation Serif, serif" font-size="22.0" stroke="#000" stroke-width="0.2" stroke-linejoin="round">l</text>
<text transform="translate(715.78,595.30) scale(1.0494,1.0000)" font-family="Liberation Serif, serif" font-size="22.0" stroke="#000" stroke-width="0.2" stroke-linejoin="round">o</text>
<text transform="translate(727.64,595.30) scale(1.1034,1.0000)" font-family="Liberation Serif, serif" font-size="22.0" stroke="#000" stroke-width="0.2" stroke-linejoin="round">g</text>
<text transform="translate(741.36,595.30) scale(1.2024,1.0000)" font-family="Liberation Serif, serif" font-size="22.0" stroke="#000" stroke-width="0.2" stroke-linejoin="round">−</text>
<text transform="translate(758.00,595.30) scale(1.1636,1.0000)" font-family="Liberation Serif, serif" font-size="22.0" stroke="#000" stroke-width="0.2" stroke-linejoin="round">n</text>
<text transform="translate(772.13,595.30) scale(1.1221,1.0000)" font-family="Liberation Serif, serif" font-size="22.0" stroke="#000" stroke-width="0.2" stroke-linejoin="round">o</text>
<text transform="translate(784.84,595.30) scale(1.3527,1.0000)" font-family="Liberation Serif, serif" font-size="22.0" stroke="#000" stroke-width="0.2" stroke-linejoin="round">r</text>
<text transform="translate(795.17,595.30) scale(1.2485,1.0000)" font-family="Liberation Serif, serif" font-size="22.0" stroke="#000" stroke-width="0.2" stroke-linejoin="round">m</text>
<text transform="translate(817.42,595.30) scale(1.2755,1.0000)" font-family="Liberation Serif, serif" font-size="22.0" stroke="#000" stroke-width="0.2" stroke-linejoin="round">a</text>
<text transform="translate(831.31,595.30) scale(1.1273,1.0000)" font-family="Liberation Serif, serif" font-size="22.0" stroke="#000" stroke-width="0.2" stroke-linejoin="round">l</text>
<text transform="translate(47.01,19.85) scale(1.0689,1.0061)" font-family="Liberation Serif, serif" font-size="25" stroke="#000" stroke-width="0.15" stroke-linejoin="round">10</text>
<text transform="translate(74.79,12.65) scale(1.3000,1.0319)" font-family="Liberation Serif, serif" font-size="15" stroke="#000" stroke-width="0.5" stroke-linejoin="round">2</text>
<text transform="translate(47.01,93.05) scale(1.0689,1.0061)" font-family="Liberation Serif, serif" font-size="25" stroke="#000" stroke-width="0.15" stroke-linejoin="round">10</text>
<text transform="translate(74.68,85.85) scale(1.3000,1.0319)" font-family="Liberation Serif, serif" font-size="15" stroke="#000" stroke-width="0.5" stroke-linejoin="round">1</text>
<text transform="translate(35.67,312.65) scale(1.0375,1.0061)" font-family="Liberation Serif, serif" font-size="25" stroke="#000" stroke-width="0.15" stroke-linejoin="round">10</text>
<text transform="translate(73.99,305.45) scale(1.3000,1.0319)" font-family="Liberation Serif, serif" font-size="15" stroke="#000" stroke-width="0.5" stroke-linejoin="round">2</text>
<text transform="translate(35.67,385.85) scale(1.0375,1.0061)" font-family="Liberation Serif, serif" font-size="25" stroke="#000" stroke-width="0.15" stroke-linejoin="round">10</text>
<text transform="translate(73.69,378.65) scale(1.3000,1.0319)" font-family="Liberation Serif, serif" font-size="15" stroke="#000" stroke-width="0.5" stroke-linejoin="round">3</text>
<text transform="translate(47.01,477.35) scale(1.0689,1.0061)" font-family="Liberation Serif, serif" font-size="25" stroke="#000" stroke-width="0.15" stroke-linejoin="round">10</text>
<text transform="translate(74.68,470.15) scale(1.3000,1.0319)" font-family="Liberation Serif, serif" font-size="15" stroke="#000" stroke-width="0.5" stroke-linejoin="round">1</text>
<text transform="translate(35.67,696.95) scale(1.0375,1.0061)" font-family="Liberation Serif, serif" font-size="25" stroke="#000" stroke-width="0.15" stroke-linejoin="round">10</text>
<text transform="translate(73.99,689.75) scale(1.3000,1.0319)" font-family="Liberation Serif, serif" font-size="15" stroke="#000" stroke-width="0.5" stroke-linejoin="round">2</text>
<text transform="translate(35.67,770.15) scale(1.0375,1.0061)" font-family="Liberation Serif, serif" font-size="25" stroke="#000" stroke-width="0.15" stroke-linejoin="round">10</text>
<text transform="translate(73.69,762.95) scale(1.3000,1.0319)" font-family="Liberation Serif, serif" font-size="15" stroke="#000" stroke-width="0.5" stroke-linejoin="round">3</text>
<text transform="translate(289.73,856.30) scale(0.9370,0.9091)" font-family="Liberation Serif, serif" font-size="25.5" font-style="italic" stroke="#000" stroke-width="0.15" stroke-linejoin="round">δ</text>
<text transform="translate(673.53,856.30) scale(0.9370,0.9091)" font-family="Liberation Serif, serif" font-size="25.5" font-style="italic" stroke="#000" stroke-width="0.15" stroke-linejoin="round">δ</text>
<text transform="translate(21.00,205.30) rotate(-90) translate(0.44,0) scale(1.0996,1.0000)" font-family="Liberation Serif, serif" font-size="25.5" font-style="italic">P(δ)</text>
<text transform="translate(21.00,589.60) rotate(-90) translate(0.44,0) scale(1.0996,1.0000)" font-family="Liberation Serif, serif" font-size="25.5" font-style="italic">P(δ)</text>
</svg>
</body></html>
